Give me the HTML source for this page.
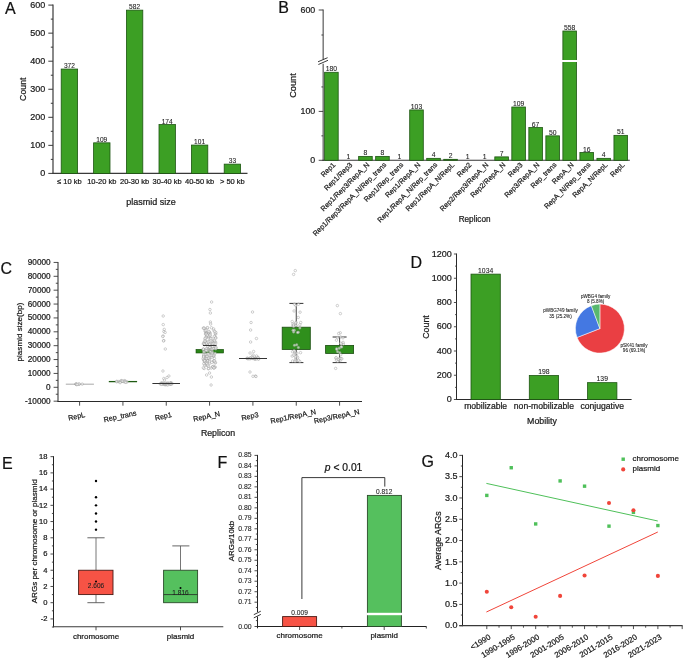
<!DOCTYPE html>
<html><head><meta charset="utf-8"><style>
html,body{margin:0;padding:0;background:#fff;}
body{width:685px;height:659px;overflow:hidden;}
svg{display:block;font-family:"Liberation Sans", sans-serif;will-change:transform;}
text{stroke:#1a1a1a;stroke-width:0.22px;}

</style></head><body>
<svg width="685" height="659" viewBox="0 0 685 659">
<rect x="0" y="0" width="685" height="659" fill="#fff"/>
<text x="5" y="13.8" font-size="16" text-anchor="start" fill="#111" >A</text>
<line x1="53" y1="4.6" x2="53" y2="173.9" stroke="#3a3a3a" stroke-width="1.2" />
<line x1="48.3" y1="173.4" x2="53" y2="173.4" stroke="#3a3a3a" stroke-width="1" />
<text x="45.3" y="176.1" font-size="9" text-anchor="end" fill="#1a1a1a" >0</text>
<line x1="48.3" y1="145.35" x2="53" y2="145.35" stroke="#3a3a3a" stroke-width="1" />
<text x="45.3" y="148.05" font-size="9" text-anchor="end" fill="#1a1a1a" >100</text>
<line x1="48.3" y1="117.3" x2="53" y2="117.3" stroke="#3a3a3a" stroke-width="1" />
<text x="45.3" y="120" font-size="9" text-anchor="end" fill="#1a1a1a" >200</text>
<line x1="48.3" y1="89.25" x2="53" y2="89.25" stroke="#3a3a3a" stroke-width="1" />
<text x="45.3" y="91.95" font-size="9" text-anchor="end" fill="#1a1a1a" >300</text>
<line x1="48.3" y1="61.2" x2="53" y2="61.2" stroke="#3a3a3a" stroke-width="1" />
<text x="45.3" y="63.9" font-size="9" text-anchor="end" fill="#1a1a1a" >400</text>
<line x1="48.3" y1="33.15" x2="53" y2="33.15" stroke="#3a3a3a" stroke-width="1" />
<text x="45.3" y="35.85" font-size="9" text-anchor="end" fill="#1a1a1a" >500</text>
<line x1="48.3" y1="5.1" x2="53" y2="5.1" stroke="#3a3a3a" stroke-width="1" />
<text x="45.3" y="7.8" font-size="9" text-anchor="end" fill="#1a1a1a" >600</text>
<line x1="50.8" y1="159.38" x2="53" y2="159.38" stroke="#3a3a3a" stroke-width="1" />
<line x1="50.8" y1="131.32" x2="53" y2="131.32" stroke="#3a3a3a" stroke-width="1" />
<line x1="50.8" y1="103.28" x2="53" y2="103.28" stroke="#3a3a3a" stroke-width="1" />
<line x1="50.8" y1="75.22" x2="53" y2="75.22" stroke="#3a3a3a" stroke-width="1" />
<line x1="50.8" y1="47.17" x2="53" y2="47.17" stroke="#3a3a3a" stroke-width="1" />
<line x1="50.8" y1="19.12" x2="53" y2="19.12" stroke="#3a3a3a" stroke-width="1" />
<line x1="52.4" y1="173.4" x2="247.5" y2="173.4" stroke="#3a3a3a" stroke-width="1.2" />
<rect x="61.2" y="69.05" width="16.4" height="104.35" fill="#3c9f24" stroke="#1d5512" stroke-width="0.8"/>
<text x="69.4" y="68.05" font-size="6.6" text-anchor="middle" fill="#222" style="stroke-width:0.08px">372</text>
<text x="69.4" y="183.7" font-size="7.5" text-anchor="middle" fill="#1a1a1a" >≤ 10 kb</text>
<rect x="93.6" y="142.83" width="16.4" height="30.57" fill="#3c9f24" stroke="#1d5512" stroke-width="0.8"/>
<text x="101.8" y="141.83" font-size="6.6" text-anchor="middle" fill="#222" style="stroke-width:0.08px">109</text>
<text x="101.8" y="183.7" font-size="7.5" text-anchor="middle" fill="#1a1a1a" >10-20 kb</text>
<rect x="126.4" y="10.15" width="16.4" height="163.25" fill="#3c9f24" stroke="#1d5512" stroke-width="0.8"/>
<text x="134.6" y="9.15" font-size="6.6" text-anchor="middle" fill="#222" style="stroke-width:0.08px">582</text>
<text x="134.6" y="183.7" font-size="7.5" text-anchor="middle" fill="#1a1a1a" >20-30 kb</text>
<rect x="159" y="124.59" width="16.4" height="48.81" fill="#3c9f24" stroke="#1d5512" stroke-width="0.8"/>
<text x="167.2" y="123.59" font-size="6.6" text-anchor="middle" fill="#222" style="stroke-width:0.08px">174</text>
<text x="167.2" y="183.7" font-size="7.5" text-anchor="middle" fill="#1a1a1a" >30-40 kb</text>
<rect x="191.4" y="145.07" width="16.4" height="28.33" fill="#3c9f24" stroke="#1d5512" stroke-width="0.8"/>
<text x="199.6" y="144.07" font-size="6.6" text-anchor="middle" fill="#222" style="stroke-width:0.08px">101</text>
<text x="199.6" y="183.7" font-size="7.5" text-anchor="middle" fill="#1a1a1a" >40-50 kb</text>
<rect x="224.2" y="164.14" width="16.4" height="9.26" fill="#3c9f24" stroke="#1d5512" stroke-width="0.8"/>
<text x="232.4" y="163.14" font-size="6.6" text-anchor="middle" fill="#222" style="stroke-width:0.08px">33</text>
<text x="232.4" y="183.7" font-size="7.5" text-anchor="middle" fill="#1a1a1a" >&gt; 50 kb</text>
<text x="150.9" y="205.2" font-size="9" text-anchor="middle" fill="#1a1a1a" >plasmid size</text>
<text x="26.2" y="89.2" font-size="8.8" text-anchor="middle" fill="#1a1a1a" transform="rotate(-90 26.2 89.2)" >Count</text>
<text x="278.2" y="13" font-size="16" text-anchor="start" fill="#111" >B</text>
<line x1="323.2" y1="9.5" x2="323.2" y2="59.4" stroke="#7a7a7a" stroke-width="1.5" />
<line x1="323.2" y1="63.8" x2="323.2" y2="160.9" stroke="#7a7a7a" stroke-width="1.5" />
<line x1="318" y1="61.8" x2="327.6" y2="57.7" stroke="#222" stroke-width="0.9" />
<line x1="318.4" y1="64.5" x2="328" y2="60.3" stroke="#222" stroke-width="0.9" />
<line x1="318.7" y1="10" x2="323.2" y2="10" stroke="#333" stroke-width="0.9" />
<text x="315.2" y="12.64" font-size="8.8" text-anchor="end" fill="#1a1a1a" >600</text>
<line x1="318.7" y1="111.4" x2="323.2" y2="111.4" stroke="#333" stroke-width="0.9" />
<text x="315.2" y="114.04" font-size="8.8" text-anchor="end" fill="#1a1a1a" >100</text>
<line x1="318.7" y1="160.3" x2="323.2" y2="160.3" stroke="#333" stroke-width="0.9" />
<text x="315.2" y="162.94" font-size="8.8" text-anchor="end" fill="#1a1a1a" >0</text>
<line x1="321.4" y1="35" x2="323.2" y2="35" stroke="#333" stroke-width="0.9" />
<line x1="321.4" y1="86.95" x2="323.2" y2="86.95" stroke="#333" stroke-width="0.9" />
<line x1="321.4" y1="135.85" x2="323.2" y2="135.85" stroke="#333" stroke-width="0.9" />
<line x1="322.5" y1="160.3" x2="629.8" y2="160.3" stroke="#333" stroke-width="1.1" />
<rect x="324.6" y="72.28" width="13.6" height="88.02" fill="#3c9f24" stroke="#1d5512" stroke-width="0.8"/>
<text x="331.4" y="71.38" font-size="6.8" text-anchor="middle" fill="#222" style="stroke-width:0.08px">180</text>
<text x="335.8" y="165.3" font-size="7.2" text-anchor="end" fill="#1a1a1a" transform="rotate(-45 335.8 165.3)" >Rep1</text>
<text x="348.42" y="158.91" font-size="6.8" text-anchor="middle" fill="#222" style="stroke-width:0.08px">1</text>
<text x="352.82" y="165.3" font-size="7.2" text-anchor="end" fill="#1a1a1a" transform="rotate(-45 352.82 165.3)" >Rep1/Rep3</text>
<rect x="358.64" y="156.39" width="13.6" height="3.91" fill="#3c9f24" stroke="#1d5512" stroke-width="0.8"/>
<text x="365.44" y="155.49" font-size="6.8" text-anchor="middle" fill="#222" style="stroke-width:0.08px">8</text>
<text x="369.84" y="165.3" font-size="7.2" text-anchor="end" fill="#1a1a1a" transform="rotate(-45 369.84 165.3)" >Rep1/Rep3/RepA_N</text>
<rect x="375.66" y="156.39" width="13.6" height="3.91" fill="#3c9f24" stroke="#1d5512" stroke-width="0.8"/>
<text x="382.46" y="155.49" font-size="6.8" text-anchor="middle" fill="#222" style="stroke-width:0.08px">8</text>
<text x="386.86" y="165.3" font-size="7.2" text-anchor="end" fill="#1a1a1a" transform="rotate(-45 386.86 165.3)" >Rep1/Rep3/RepA_N/Rep_trans</text>
<text x="399.48" y="158.91" font-size="6.8" text-anchor="middle" fill="#222" style="stroke-width:0.08px">1</text>
<text x="403.88" y="165.3" font-size="7.2" text-anchor="end" fill="#1a1a1a" transform="rotate(-45 403.88 165.3)" >Rep1/Rep_trans</text>
<rect x="409.7" y="109.93" width="13.6" height="50.37" fill="#3c9f24" stroke="#1d5512" stroke-width="0.8"/>
<text x="416.5" y="109.03" font-size="6.8" text-anchor="middle" fill="#222" style="stroke-width:0.08px">103</text>
<text x="420.9" y="165.3" font-size="7.2" text-anchor="end" fill="#1a1a1a" transform="rotate(-45 420.9 165.3)" >Rep1/RepA_N</text>
<rect x="426.72" y="158.34" width="13.6" height="1.96" fill="#3c9f24" stroke="#1d5512" stroke-width="0.8"/>
<text x="433.52" y="157.44" font-size="6.8" text-anchor="middle" fill="#222" style="stroke-width:0.08px">4</text>
<text x="437.92" y="165.3" font-size="7.2" text-anchor="end" fill="#1a1a1a" transform="rotate(-45 437.92 165.3)" >Rep1/RepA_N/Rep_trans</text>
<rect x="443.74" y="159.32" width="13.6" height="0.98" fill="#3c9f24" stroke="#1d5512" stroke-width="0.8"/>
<text x="450.54" y="158.42" font-size="6.8" text-anchor="middle" fill="#222" style="stroke-width:0.08px">2</text>
<text x="454.94" y="165.3" font-size="7.2" text-anchor="end" fill="#1a1a1a" transform="rotate(-45 454.94 165.3)" >Rep1/RepA_N/RepL</text>
<text x="467.56" y="158.91" font-size="6.8" text-anchor="middle" fill="#222" style="stroke-width:0.08px">1</text>
<text x="471.96" y="165.3" font-size="7.2" text-anchor="end" fill="#1a1a1a" transform="rotate(-45 471.96 165.3)" >Rep2</text>
<text x="484.58" y="158.91" font-size="6.8" text-anchor="middle" fill="#222" style="stroke-width:0.08px">1</text>
<text x="488.98" y="165.3" font-size="7.2" text-anchor="end" fill="#1a1a1a" transform="rotate(-45 488.98 165.3)" >Rep2/Rep3/RepA_N</text>
<rect x="494.8" y="156.88" width="13.6" height="3.42" fill="#3c9f24" stroke="#1d5512" stroke-width="0.8"/>
<text x="501.6" y="155.98" font-size="6.8" text-anchor="middle" fill="#222" style="stroke-width:0.08px">7</text>
<text x="506" y="165.3" font-size="7.2" text-anchor="end" fill="#1a1a1a" transform="rotate(-45 506 165.3)" >Rep2/RepA_N</text>
<rect x="511.82" y="107" width="13.6" height="53.3" fill="#3c9f24" stroke="#1d5512" stroke-width="0.8"/>
<text x="518.62" y="106.1" font-size="6.8" text-anchor="middle" fill="#222" style="stroke-width:0.08px">109</text>
<text x="523.02" y="165.3" font-size="7.2" text-anchor="end" fill="#1a1a1a" transform="rotate(-45 523.02 165.3)" >Rep3</text>
<rect x="528.84" y="127.54" width="13.6" height="32.76" fill="#3c9f24" stroke="#1d5512" stroke-width="0.8"/>
<text x="535.64" y="126.64" font-size="6.8" text-anchor="middle" fill="#222" style="stroke-width:0.08px">67</text>
<text x="540.04" y="165.3" font-size="7.2" text-anchor="end" fill="#1a1a1a" transform="rotate(-45 540.04 165.3)" >Rep3/RepA_N</text>
<rect x="545.86" y="135.85" width="13.6" height="24.45" fill="#3c9f24" stroke="#1d5512" stroke-width="0.8"/>
<text x="552.66" y="134.95" font-size="6.8" text-anchor="middle" fill="#222" style="stroke-width:0.08px">50</text>
<text x="557.06" y="165.3" font-size="7.2" text-anchor="end" fill="#1a1a1a" transform="rotate(-45 557.06 165.3)" >Rep_trans</text>
<rect x="562.88" y="31" width="13.6" height="129.3" fill="#3c9f24" stroke="#1d5512" stroke-width="0.8"/>
<rect x="561.88" y="60" width="15.6" height="2" fill="#fff" stroke="none" stroke-width="0.8"/>
<text x="569.68" y="30.1" font-size="6.8" text-anchor="middle" fill="#222" style="stroke-width:0.08px">558</text>
<text x="574.08" y="165.3" font-size="7.2" text-anchor="end" fill="#1a1a1a" transform="rotate(-45 574.08 165.3)" >RepA_N</text>
<rect x="579.9" y="152.48" width="13.6" height="7.82" fill="#3c9f24" stroke="#1d5512" stroke-width="0.8"/>
<text x="586.7" y="151.58" font-size="6.8" text-anchor="middle" fill="#222" style="stroke-width:0.08px">16</text>
<text x="591.1" y="165.3" font-size="7.2" text-anchor="end" fill="#1a1a1a" transform="rotate(-45 591.1 165.3)" >RepA_N/Rep_trans</text>
<rect x="596.92" y="158.34" width="13.6" height="1.96" fill="#3c9f24" stroke="#1d5512" stroke-width="0.8"/>
<text x="603.72" y="157.44" font-size="6.8" text-anchor="middle" fill="#222" style="stroke-width:0.08px">4</text>
<text x="608.12" y="165.3" font-size="7.2" text-anchor="end" fill="#1a1a1a" transform="rotate(-45 608.12 165.3)" >RepA_N/RepL</text>
<rect x="613.94" y="135.36" width="13.6" height="24.94" fill="#3c9f24" stroke="#1d5512" stroke-width="0.8"/>
<text x="620.74" y="134.46" font-size="6.8" text-anchor="middle" fill="#222" style="stroke-width:0.08px">51</text>
<text x="625.14" y="165.3" font-size="7.2" text-anchor="end" fill="#1a1a1a" transform="rotate(-45 625.14 165.3)" >RepL</text>
<text x="474.6" y="222" font-size="8.2" text-anchor="middle" fill="#1a1a1a" >Replicon</text>
<text x="295.8" y="85.5" font-size="9.2" text-anchor="middle" fill="#1a1a1a" transform="rotate(-90 295.8 85.5)" >Count</text>
<text x="0.6" y="273.6" font-size="16" text-anchor="start" fill="#111" >C</text>
<line x1="58" y1="261.93" x2="58" y2="401.68" stroke="#3a3a3a" stroke-width="1.1" />
<line x1="53.6" y1="401.18" x2="58" y2="401.18" stroke="#3a3a3a" stroke-width="0.9" />
<text x="50.6" y="403.63" font-size="8.2" text-anchor="end" fill="#1a1a1a" >-10000</text>
<line x1="53.6" y1="387.3" x2="58" y2="387.3" stroke="#3a3a3a" stroke-width="0.9" />
<text x="50.6" y="389.76" font-size="8.2" text-anchor="end" fill="#1a1a1a" >0</text>
<line x1="53.6" y1="373.43" x2="58" y2="373.43" stroke="#3a3a3a" stroke-width="0.9" />
<text x="50.6" y="375.88" font-size="8.2" text-anchor="end" fill="#1a1a1a" >10000</text>
<line x1="53.6" y1="359.55" x2="58" y2="359.55" stroke="#3a3a3a" stroke-width="0.9" />
<text x="50.6" y="362.01" font-size="8.2" text-anchor="end" fill="#1a1a1a" >20000</text>
<line x1="53.6" y1="345.68" x2="58" y2="345.68" stroke="#3a3a3a" stroke-width="0.9" />
<text x="50.6" y="348.13" font-size="8.2" text-anchor="end" fill="#1a1a1a" >30000</text>
<line x1="53.6" y1="331.8" x2="58" y2="331.8" stroke="#3a3a3a" stroke-width="0.9" />
<text x="50.6" y="334.26" font-size="8.2" text-anchor="end" fill="#1a1a1a" >40000</text>
<line x1="53.6" y1="317.93" x2="58" y2="317.93" stroke="#3a3a3a" stroke-width="0.9" />
<text x="50.6" y="320.38" font-size="8.2" text-anchor="end" fill="#1a1a1a" >50000</text>
<line x1="53.6" y1="304.05" x2="58" y2="304.05" stroke="#3a3a3a" stroke-width="0.9" />
<text x="50.6" y="306.51" font-size="8.2" text-anchor="end" fill="#1a1a1a" >60000</text>
<line x1="53.6" y1="290.18" x2="58" y2="290.18" stroke="#3a3a3a" stroke-width="0.9" />
<text x="50.6" y="292.63" font-size="8.2" text-anchor="end" fill="#1a1a1a" >70000</text>
<line x1="53.6" y1="276.3" x2="58" y2="276.3" stroke="#3a3a3a" stroke-width="0.9" />
<text x="50.6" y="278.76" font-size="8.2" text-anchor="end" fill="#1a1a1a" >80000</text>
<line x1="53.6" y1="262.43" x2="58" y2="262.43" stroke="#3a3a3a" stroke-width="0.9" />
<text x="50.6" y="264.88" font-size="8.2" text-anchor="end" fill="#1a1a1a" >90000</text>
<line x1="55.8" y1="394.24" x2="58" y2="394.24" stroke="#3a3a3a" stroke-width="0.9" />
<line x1="55.8" y1="380.36" x2="58" y2="380.36" stroke="#3a3a3a" stroke-width="0.9" />
<line x1="55.8" y1="366.49" x2="58" y2="366.49" stroke="#3a3a3a" stroke-width="0.9" />
<line x1="55.8" y1="352.61" x2="58" y2="352.61" stroke="#3a3a3a" stroke-width="0.9" />
<line x1="55.8" y1="338.74" x2="58" y2="338.74" stroke="#3a3a3a" stroke-width="0.9" />
<line x1="55.8" y1="324.86" x2="58" y2="324.86" stroke="#3a3a3a" stroke-width="0.9" />
<line x1="55.8" y1="310.99" x2="58" y2="310.99" stroke="#3a3a3a" stroke-width="0.9" />
<line x1="55.8" y1="297.11" x2="58" y2="297.11" stroke="#3a3a3a" stroke-width="0.9" />
<line x1="55.8" y1="283.24" x2="58" y2="283.24" stroke="#3a3a3a" stroke-width="0.9" />
<line x1="55.8" y1="269.36" x2="58" y2="269.36" stroke="#3a3a3a" stroke-width="0.9" />
<line x1="57.5" y1="401.5" x2="362" y2="401.5" stroke="#2a2a2a" stroke-width="1" />
<line x1="79.6" y1="401.18" x2="79.6" y2="405.68" stroke="#3a3a3a" stroke-width="0.9" />
<text x="76.6" y="418.8" font-size="7.2" text-anchor="middle" fill="#1a1a1a" transform="rotate(-12 76.6 416.2)" >RepL</text>
<line x1="122.93" y1="401.18" x2="122.93" y2="405.68" stroke="#3a3a3a" stroke-width="0.9" />
<text x="119.93" y="418.8" font-size="7.2" text-anchor="middle" fill="#1a1a1a" transform="rotate(-12 119.93 416.2)" >Rep_trans</text>
<line x1="166.26" y1="401.18" x2="166.26" y2="405.68" stroke="#3a3a3a" stroke-width="0.9" />
<text x="163.26" y="418.8" font-size="7.2" text-anchor="middle" fill="#1a1a1a" transform="rotate(-12 163.26 416.2)" >Rep1</text>
<line x1="209.59" y1="401.18" x2="209.59" y2="405.68" stroke="#3a3a3a" stroke-width="0.9" />
<text x="206.59" y="418.8" font-size="7.2" text-anchor="middle" fill="#1a1a1a" transform="rotate(-12 206.59 416.2)" >RepA_N</text>
<line x1="252.92" y1="401.18" x2="252.92" y2="405.68" stroke="#3a3a3a" stroke-width="0.9" />
<text x="249.92" y="418.8" font-size="7.2" text-anchor="middle" fill="#1a1a1a" transform="rotate(-12 249.92 416.2)" >Rep3</text>
<line x1="296.25" y1="401.18" x2="296.25" y2="405.68" stroke="#3a3a3a" stroke-width="0.9" />
<text x="293.25" y="418.8" font-size="7.2" text-anchor="middle" fill="#1a1a1a" transform="rotate(-12 293.25 416.2)" >Rep1/RepA_N</text>
<line x1="339.58" y1="401.18" x2="339.58" y2="405.68" stroke="#3a3a3a" stroke-width="0.9" />
<text x="336.58" y="418.8" font-size="7.2" text-anchor="middle" fill="#1a1a1a" transform="rotate(-12 336.58 416.2)" >Rep3/RepA_N</text>
<text x="218" y="436" font-size="8.8" text-anchor="middle" fill="#1a1a1a" >Replicon</text>
<text x="21.6" y="332" font-size="8.1" text-anchor="middle" fill="#1a1a1a" transform="rotate(-90 21.6 332)" >plasmid size(bp)</text>
<line x1="65.8" y1="384.2" x2="93.9" y2="384.2" stroke="#b0b0b0" stroke-width="1.1" />
<line x1="108.8" y1="381.6" x2="137.1" y2="381.6" stroke="#1e5a12" stroke-width="1.3" />
<line x1="296.25" y1="303.4" x2="296.25" y2="327.2" stroke="#333" stroke-width="0.9" />
<line x1="296.25" y1="349.5" x2="296.25" y2="362.6" stroke="#333" stroke-width="0.9" />
<line x1="289.4" y1="303.4" x2="303.4" y2="303.4" stroke="#333" stroke-width="1" />
<line x1="289.4" y1="362.6" x2="303.4" y2="362.6" stroke="#333" stroke-width="1" />
<rect x="282.2" y="327.2" width="28.1" height="22.3" fill="#2f8f1c" stroke="#1a4d10" stroke-width="0.8"/>
<line x1="339.58" y1="337" x2="339.58" y2="345.4" stroke="#333" stroke-width="0.9" />
<line x1="339.58" y1="353.4" x2="339.58" y2="362.6" stroke="#333" stroke-width="0.9" />
<line x1="332.6" y1="337" x2="346.6" y2="337" stroke="#333" stroke-width="1" />
<line x1="332.6" y1="362.6" x2="346.6" y2="362.6" stroke="#333" stroke-width="1" />
<rect x="325.6" y="345.4" width="28" height="8" fill="#2f8f1c" stroke="#1a4d10" stroke-width="0.8"/>
<rect x="196" y="349.3" width="27.6" height="3.7" fill="#2a8518" stroke="#1a4d10" stroke-width="0.6"/>
<circle cx="75.9" cy="384.1" r="1.25" fill="rgba(255,255,255,0.6)" stroke="#8a8a8a" stroke-width="0.4"/>
<circle cx="79.07" cy="384.4" r="1.25" fill="rgba(255,255,255,0.6)" stroke="#8a8a8a" stroke-width="0.4"/>
<circle cx="76.16" cy="384.11" r="1.25" fill="rgba(255,255,255,0.6)" stroke="#8a8a8a" stroke-width="0.4"/>
<circle cx="76.33" cy="384.07" r="1.25" fill="rgba(255,255,255,0.6)" stroke="#8a8a8a" stroke-width="0.4"/>
<circle cx="79" cy="383.83" r="1.25" fill="rgba(255,255,255,0.6)" stroke="#8a8a8a" stroke-width="0.4"/>
<circle cx="82.21" cy="384.11" r="1.25" fill="rgba(255,255,255,0.6)" stroke="#8a8a8a" stroke-width="0.4"/>
<circle cx="76.59" cy="384.64" r="1.25" fill="rgba(255,255,255,0.6)" stroke="#8a8a8a" stroke-width="0.4"/>
<circle cx="77.39" cy="384.37" r="1.25" fill="rgba(255,255,255,0.6)" stroke="#8a8a8a" stroke-width="0.4"/>
<circle cx="124.87" cy="380.59" r="1.25" fill="rgba(255,255,255,0.6)" stroke="#8a8a8a" stroke-width="0.4"/>
<circle cx="121.14" cy="380.55" r="1.25" fill="rgba(255,255,255,0.6)" stroke="#8a8a8a" stroke-width="0.4"/>
<circle cx="123.6" cy="381.07" r="1.25" fill="rgba(255,255,255,0.6)" stroke="#8a8a8a" stroke-width="0.4"/>
<circle cx="116.81" cy="381.32" r="1.25" fill="rgba(255,255,255,0.6)" stroke="#8a8a8a" stroke-width="0.4"/>
<circle cx="116.76" cy="381.78" r="1.25" fill="rgba(255,255,255,0.6)" stroke="#8a8a8a" stroke-width="0.4"/>
<circle cx="118.81" cy="381.57" r="1.25" fill="rgba(255,255,255,0.6)" stroke="#8a8a8a" stroke-width="0.4"/>
<circle cx="125.46" cy="381.91" r="1.25" fill="rgba(255,255,255,0.6)" stroke="#8a8a8a" stroke-width="0.4"/>
<circle cx="121.92" cy="381.21" r="1.25" fill="rgba(255,255,255,0.6)" stroke="#8a8a8a" stroke-width="0.4"/>
<circle cx="120.33" cy="381.79" r="1.25" fill="rgba(255,255,255,0.6)" stroke="#8a8a8a" stroke-width="0.4"/>
<circle cx="124.13" cy="381.84" r="1.25" fill="rgba(255,255,255,0.6)" stroke="#8a8a8a" stroke-width="0.4"/>
<circle cx="122.27" cy="381.2" r="1.25" fill="rgba(255,255,255,0.6)" stroke="#8a8a8a" stroke-width="0.4"/>
<circle cx="120.13" cy="382.63" r="1.25" fill="rgba(255,255,255,0.6)" stroke="#8a8a8a" stroke-width="0.4"/>
<circle cx="127.05" cy="381.93" r="1.25" fill="rgba(255,255,255,0.6)" stroke="#8a8a8a" stroke-width="0.4"/>
<circle cx="125.72" cy="382.32" r="1.25" fill="rgba(255,255,255,0.6)" stroke="#8a8a8a" stroke-width="0.4"/>
<circle cx="161.81" cy="383.04" r="1.25" fill="rgba(255,255,255,0.6)" stroke="#8a8a8a" stroke-width="0.4"/>
<circle cx="163.23" cy="384.04" r="1.25" fill="rgba(255,255,255,0.6)" stroke="#8a8a8a" stroke-width="0.4"/>
<circle cx="164.95" cy="384.61" r="1.25" fill="rgba(255,255,255,0.6)" stroke="#8a8a8a" stroke-width="0.4"/>
<circle cx="170.72" cy="383.26" r="1.25" fill="rgba(255,255,255,0.6)" stroke="#8a8a8a" stroke-width="0.4"/>
<circle cx="161.23" cy="383.08" r="1.25" fill="rgba(255,255,255,0.6)" stroke="#8a8a8a" stroke-width="0.4"/>
<circle cx="165.65" cy="383.65" r="1.25" fill="rgba(255,255,255,0.6)" stroke="#8a8a8a" stroke-width="0.4"/>
<circle cx="166.85" cy="383.4" r="1.25" fill="rgba(255,255,255,0.6)" stroke="#8a8a8a" stroke-width="0.4"/>
<circle cx="170.86" cy="383.05" r="1.25" fill="rgba(255,255,255,0.6)" stroke="#8a8a8a" stroke-width="0.4"/>
<circle cx="170.09" cy="384.17" r="1.25" fill="rgba(255,255,255,0.6)" stroke="#8a8a8a" stroke-width="0.4"/>
<circle cx="170.63" cy="383.66" r="1.25" fill="rgba(255,255,255,0.6)" stroke="#8a8a8a" stroke-width="0.4"/>
<circle cx="163.6" cy="383.54" r="1.25" fill="rgba(255,255,255,0.6)" stroke="#8a8a8a" stroke-width="0.4"/>
<circle cx="165.24" cy="383.76" r="1.25" fill="rgba(255,255,255,0.6)" stroke="#8a8a8a" stroke-width="0.4"/>
<circle cx="164.57" cy="384.15" r="1.25" fill="rgba(255,255,255,0.6)" stroke="#8a8a8a" stroke-width="0.4"/>
<circle cx="170.87" cy="383.29" r="1.25" fill="rgba(255,255,255,0.6)" stroke="#8a8a8a" stroke-width="0.4"/>
<circle cx="171.75" cy="383.1" r="1.25" fill="rgba(255,255,255,0.6)" stroke="#8a8a8a" stroke-width="0.4"/>
<circle cx="162.07" cy="384.04" r="1.25" fill="rgba(255,255,255,0.6)" stroke="#8a8a8a" stroke-width="0.4"/>
<circle cx="162.37" cy="383.49" r="1.25" fill="rgba(255,255,255,0.6)" stroke="#8a8a8a" stroke-width="0.4"/>
<circle cx="163.04" cy="383.49" r="1.25" fill="rgba(255,255,255,0.6)" stroke="#8a8a8a" stroke-width="0.4"/>
<circle cx="163.06" cy="383.36" r="1.25" fill="rgba(255,255,255,0.6)" stroke="#8a8a8a" stroke-width="0.4"/>
<circle cx="166.08" cy="384.01" r="1.25" fill="rgba(255,255,255,0.6)" stroke="#8a8a8a" stroke-width="0.4"/>
<circle cx="167.33" cy="383.77" r="1.25" fill="rgba(255,255,255,0.6)" stroke="#8a8a8a" stroke-width="0.4"/>
<circle cx="163.41" cy="383.42" r="1.25" fill="rgba(255,255,255,0.6)" stroke="#8a8a8a" stroke-width="0.4"/>
<circle cx="160.31" cy="384.03" r="1.25" fill="rgba(255,255,255,0.6)" stroke="#8a8a8a" stroke-width="0.4"/>
<circle cx="165.29" cy="384.63" r="1.25" fill="rgba(255,255,255,0.6)" stroke="#8a8a8a" stroke-width="0.4"/>
<circle cx="164.69" cy="384.17" r="1.25" fill="rgba(255,255,255,0.6)" stroke="#8a8a8a" stroke-width="0.4"/>
<circle cx="167.06" cy="383.19" r="1.25" fill="rgba(255,255,255,0.6)" stroke="#8a8a8a" stroke-width="0.4"/>
<circle cx="171.7" cy="384.15" r="1.25" fill="rgba(255,255,255,0.6)" stroke="#8a8a8a" stroke-width="0.4"/>
<circle cx="168.55" cy="383.46" r="1.25" fill="rgba(255,255,255,0.6)" stroke="#8a8a8a" stroke-width="0.4"/>
<circle cx="166.45" cy="384.52" r="1.25" fill="rgba(255,255,255,0.6)" stroke="#8a8a8a" stroke-width="0.4"/>
<circle cx="167.67" cy="385.01" r="1.25" fill="rgba(255,255,255,0.6)" stroke="#8a8a8a" stroke-width="0.4"/>
<circle cx="168.37" cy="383.29" r="1.25" fill="rgba(255,255,255,0.6)" stroke="#8a8a8a" stroke-width="0.4"/>
<circle cx="160.91" cy="383.59" r="1.25" fill="rgba(255,255,255,0.6)" stroke="#8a8a8a" stroke-width="0.4"/>
<circle cx="171.05" cy="383.9" r="1.25" fill="rgba(255,255,255,0.6)" stroke="#8a8a8a" stroke-width="0.4"/>
<circle cx="169.62" cy="383.78" r="1.25" fill="rgba(255,255,255,0.6)" stroke="#8a8a8a" stroke-width="0.4"/>
<circle cx="170.75" cy="383.88" r="1.25" fill="rgba(255,255,255,0.6)" stroke="#8a8a8a" stroke-width="0.4"/>
<circle cx="169.83" cy="383.13" r="1.25" fill="rgba(255,255,255,0.6)" stroke="#8a8a8a" stroke-width="0.4"/>
<circle cx="164.97" cy="383.2" r="1.25" fill="rgba(255,255,255,0.6)" stroke="#8a8a8a" stroke-width="0.4"/>
<circle cx="165.05" cy="383.35" r="1.25" fill="rgba(255,255,255,0.6)" stroke="#8a8a8a" stroke-width="0.4"/>
<circle cx="161.5" cy="384.28" r="1.25" fill="rgba(255,255,255,0.6)" stroke="#8a8a8a" stroke-width="0.4"/>
<circle cx="167.87" cy="383.5" r="1.25" fill="rgba(255,255,255,0.6)" stroke="#8a8a8a" stroke-width="0.4"/>
<circle cx="163.2" cy="316" r="1.25" fill="rgba(255,255,255,0.6)" stroke="#8a8a8a" stroke-width="0.4"/>
<circle cx="163.23" cy="324.6" r="1.25" fill="rgba(255,255,255,0.6)" stroke="#8a8a8a" stroke-width="0.4"/>
<circle cx="164.22" cy="329.4" r="1.25" fill="rgba(255,255,255,0.6)" stroke="#8a8a8a" stroke-width="0.4"/>
<circle cx="163.9" cy="331.5" r="1.25" fill="rgba(255,255,255,0.6)" stroke="#8a8a8a" stroke-width="0.4"/>
<circle cx="165.14" cy="332.4" r="1.25" fill="rgba(255,255,255,0.6)" stroke="#8a8a8a" stroke-width="0.4"/>
<circle cx="163.13" cy="336" r="1.25" fill="rgba(255,255,255,0.6)" stroke="#8a8a8a" stroke-width="0.4"/>
<circle cx="162.76" cy="336.5" r="1.25" fill="rgba(255,255,255,0.6)" stroke="#8a8a8a" stroke-width="0.4"/>
<circle cx="163.82" cy="340.6" r="1.25" fill="rgba(255,255,255,0.6)" stroke="#8a8a8a" stroke-width="0.4"/>
<circle cx="163.47" cy="340.9" r="1.25" fill="rgba(255,255,255,0.6)" stroke="#8a8a8a" stroke-width="0.4"/>
<circle cx="165.31" cy="349" r="1.25" fill="rgba(255,255,255,0.6)" stroke="#8a8a8a" stroke-width="0.4"/>
<circle cx="162.94" cy="371" r="1.25" fill="rgba(255,255,255,0.6)" stroke="#8a8a8a" stroke-width="0.4"/>
<circle cx="168.88" cy="376" r="1.25" fill="rgba(255,255,255,0.6)" stroke="#8a8a8a" stroke-width="0.4"/>
<circle cx="167.06" cy="377.5" r="1.25" fill="rgba(255,255,255,0.6)" stroke="#8a8a8a" stroke-width="0.4"/>
<circle cx="163.8" cy="378.5" r="1.25" fill="rgba(255,255,255,0.6)" stroke="#8a8a8a" stroke-width="0.4"/>
<circle cx="164.53" cy="380" r="1.25" fill="rgba(255,255,255,0.6)" stroke="#8a8a8a" stroke-width="0.4"/>
<circle cx="214.57" cy="341.59" r="1.25" fill="rgba(255,255,255,0.6)" stroke="#8a8a8a" stroke-width="0.4"/>
<circle cx="215.67" cy="342.29" r="1.25" fill="rgba(255,255,255,0.6)" stroke="#8a8a8a" stroke-width="0.4"/>
<circle cx="205.94" cy="332.16" r="1.25" fill="rgba(255,255,255,0.6)" stroke="#8a8a8a" stroke-width="0.4"/>
<circle cx="215.47" cy="362.66" r="1.25" fill="rgba(255,255,255,0.6)" stroke="#8a8a8a" stroke-width="0.4"/>
<circle cx="208.27" cy="368.71" r="1.25" fill="rgba(255,255,255,0.6)" stroke="#8a8a8a" stroke-width="0.4"/>
<circle cx="209.42" cy="346.57" r="1.25" fill="rgba(255,255,255,0.6)" stroke="#8a8a8a" stroke-width="0.4"/>
<circle cx="215.96" cy="347.32" r="1.25" fill="rgba(255,255,255,0.6)" stroke="#8a8a8a" stroke-width="0.4"/>
<circle cx="213.91" cy="330.61" r="1.25" fill="rgba(255,255,255,0.6)" stroke="#8a8a8a" stroke-width="0.4"/>
<circle cx="205.19" cy="331.29" r="1.25" fill="rgba(255,255,255,0.6)" stroke="#8a8a8a" stroke-width="0.4"/>
<circle cx="208.7" cy="341.39" r="1.25" fill="rgba(255,255,255,0.6)" stroke="#8a8a8a" stroke-width="0.4"/>
<circle cx="209.79" cy="338.12" r="1.25" fill="rgba(255,255,255,0.6)" stroke="#8a8a8a" stroke-width="0.4"/>
<circle cx="207.5" cy="361.81" r="1.25" fill="rgba(255,255,255,0.6)" stroke="#8a8a8a" stroke-width="0.4"/>
<circle cx="205.63" cy="333.78" r="1.25" fill="rgba(255,255,255,0.6)" stroke="#8a8a8a" stroke-width="0.4"/>
<circle cx="207.23" cy="327.97" r="1.25" fill="rgba(255,255,255,0.6)" stroke="#8a8a8a" stroke-width="0.4"/>
<circle cx="212.48" cy="366.94" r="1.25" fill="rgba(255,255,255,0.6)" stroke="#8a8a8a" stroke-width="0.4"/>
<circle cx="203.34" cy="349.19" r="1.25" fill="rgba(255,255,255,0.6)" stroke="#8a8a8a" stroke-width="0.4"/>
<circle cx="210.29" cy="333.16" r="1.25" fill="rgba(255,255,255,0.6)" stroke="#8a8a8a" stroke-width="0.4"/>
<circle cx="208.82" cy="349.81" r="1.25" fill="rgba(255,255,255,0.6)" stroke="#8a8a8a" stroke-width="0.4"/>
<circle cx="203.33" cy="328.14" r="1.25" fill="rgba(255,255,255,0.6)" stroke="#8a8a8a" stroke-width="0.4"/>
<circle cx="207.4" cy="349.18" r="1.25" fill="rgba(255,255,255,0.6)" stroke="#8a8a8a" stroke-width="0.4"/>
<circle cx="211.2" cy="368.1" r="1.25" fill="rgba(255,255,255,0.6)" stroke="#8a8a8a" stroke-width="0.4"/>
<circle cx="209.75" cy="363.26" r="1.25" fill="rgba(255,255,255,0.6)" stroke="#8a8a8a" stroke-width="0.4"/>
<circle cx="203.93" cy="356.24" r="1.25" fill="rgba(255,255,255,0.6)" stroke="#8a8a8a" stroke-width="0.4"/>
<circle cx="215.9" cy="337.97" r="1.25" fill="rgba(255,255,255,0.6)" stroke="#8a8a8a" stroke-width="0.4"/>
<circle cx="213.34" cy="342.4" r="1.25" fill="rgba(255,255,255,0.6)" stroke="#8a8a8a" stroke-width="0.4"/>
<circle cx="215.72" cy="334.02" r="1.25" fill="rgba(255,255,255,0.6)" stroke="#8a8a8a" stroke-width="0.4"/>
<circle cx="204.45" cy="359.42" r="1.25" fill="rgba(255,255,255,0.6)" stroke="#8a8a8a" stroke-width="0.4"/>
<circle cx="206.54" cy="349.37" r="1.25" fill="rgba(255,255,255,0.6)" stroke="#8a8a8a" stroke-width="0.4"/>
<circle cx="203.6" cy="359.72" r="1.25" fill="rgba(255,255,255,0.6)" stroke="#8a8a8a" stroke-width="0.4"/>
<circle cx="213.22" cy="340.85" r="1.25" fill="rgba(255,255,255,0.6)" stroke="#8a8a8a" stroke-width="0.4"/>
<circle cx="206.61" cy="336.37" r="1.25" fill="rgba(255,255,255,0.6)" stroke="#8a8a8a" stroke-width="0.4"/>
<circle cx="204.77" cy="361.08" r="1.25" fill="rgba(255,255,255,0.6)" stroke="#8a8a8a" stroke-width="0.4"/>
<circle cx="208.58" cy="368.37" r="1.25" fill="rgba(255,255,255,0.6)" stroke="#8a8a8a" stroke-width="0.4"/>
<circle cx="214.94" cy="362.81" r="1.25" fill="rgba(255,255,255,0.6)" stroke="#8a8a8a" stroke-width="0.4"/>
<circle cx="213.74" cy="360.86" r="1.25" fill="rgba(255,255,255,0.6)" stroke="#8a8a8a" stroke-width="0.4"/>
<circle cx="206.45" cy="361.37" r="1.25" fill="rgba(255,255,255,0.6)" stroke="#8a8a8a" stroke-width="0.4"/>
<circle cx="205.03" cy="358.07" r="1.25" fill="rgba(255,255,255,0.6)" stroke="#8a8a8a" stroke-width="0.4"/>
<circle cx="215.04" cy="336.52" r="1.25" fill="rgba(255,255,255,0.6)" stroke="#8a8a8a" stroke-width="0.4"/>
<circle cx="210.51" cy="348.74" r="1.25" fill="rgba(255,255,255,0.6)" stroke="#8a8a8a" stroke-width="0.4"/>
<circle cx="212.2" cy="341.93" r="1.25" fill="rgba(255,255,255,0.6)" stroke="#8a8a8a" stroke-width="0.4"/>
<circle cx="204.25" cy="328.22" r="1.25" fill="rgba(255,255,255,0.6)" stroke="#8a8a8a" stroke-width="0.4"/>
<circle cx="203.84" cy="328.17" r="1.25" fill="rgba(255,255,255,0.6)" stroke="#8a8a8a" stroke-width="0.4"/>
<circle cx="212.04" cy="338.74" r="1.25" fill="rgba(255,255,255,0.6)" stroke="#8a8a8a" stroke-width="0.4"/>
<circle cx="208.62" cy="337.89" r="1.25" fill="rgba(255,255,255,0.6)" stroke="#8a8a8a" stroke-width="0.4"/>
<circle cx="204.03" cy="356.09" r="1.25" fill="rgba(255,255,255,0.6)" stroke="#8a8a8a" stroke-width="0.4"/>
<circle cx="215.29" cy="367.17" r="1.25" fill="rgba(255,255,255,0.6)" stroke="#8a8a8a" stroke-width="0.4"/>
<circle cx="211.34" cy="345.78" r="1.25" fill="rgba(255,255,255,0.6)" stroke="#8a8a8a" stroke-width="0.4"/>
<circle cx="213.51" cy="366.35" r="1.25" fill="rgba(255,255,255,0.6)" stroke="#8a8a8a" stroke-width="0.4"/>
<circle cx="204.18" cy="368.5" r="1.25" fill="rgba(255,255,255,0.6)" stroke="#8a8a8a" stroke-width="0.4"/>
<circle cx="214.22" cy="367.11" r="1.25" fill="rgba(255,255,255,0.6)" stroke="#8a8a8a" stroke-width="0.4"/>
<circle cx="203.96" cy="342.31" r="1.25" fill="rgba(255,255,255,0.6)" stroke="#8a8a8a" stroke-width="0.4"/>
<circle cx="214.31" cy="336.26" r="1.25" fill="rgba(255,255,255,0.6)" stroke="#8a8a8a" stroke-width="0.4"/>
<circle cx="208.99" cy="336.53" r="1.25" fill="rgba(255,255,255,0.6)" stroke="#8a8a8a" stroke-width="0.4"/>
<circle cx="207.5" cy="335.26" r="1.25" fill="rgba(255,255,255,0.6)" stroke="#8a8a8a" stroke-width="0.4"/>
<circle cx="210.28" cy="335.58" r="1.25" fill="rgba(255,255,255,0.6)" stroke="#8a8a8a" stroke-width="0.4"/>
<circle cx="215.14" cy="353.21" r="1.25" fill="rgba(255,255,255,0.6)" stroke="#8a8a8a" stroke-width="0.4"/>
<circle cx="206.57" cy="364.81" r="1.25" fill="rgba(255,255,255,0.6)" stroke="#8a8a8a" stroke-width="0.4"/>
<circle cx="204.77" cy="362.3" r="1.25" fill="rgba(255,255,255,0.6)" stroke="#8a8a8a" stroke-width="0.4"/>
<circle cx="209.94" cy="347.14" r="1.25" fill="rgba(255,255,255,0.6)" stroke="#8a8a8a" stroke-width="0.4"/>
<circle cx="206.19" cy="354.43" r="1.25" fill="rgba(255,255,255,0.6)" stroke="#8a8a8a" stroke-width="0.4"/>
<circle cx="204.51" cy="360.59" r="1.25" fill="rgba(255,255,255,0.6)" stroke="#8a8a8a" stroke-width="0.4"/>
<circle cx="205.19" cy="330.56" r="1.25" fill="rgba(255,255,255,0.6)" stroke="#8a8a8a" stroke-width="0.4"/>
<circle cx="203.74" cy="354.74" r="1.25" fill="rgba(255,255,255,0.6)" stroke="#8a8a8a" stroke-width="0.4"/>
<circle cx="205.71" cy="365.21" r="1.25" fill="rgba(255,255,255,0.6)" stroke="#8a8a8a" stroke-width="0.4"/>
<circle cx="207.15" cy="359.86" r="1.25" fill="rgba(255,255,255,0.6)" stroke="#8a8a8a" stroke-width="0.4"/>
<circle cx="207.06" cy="358.51" r="1.25" fill="rgba(255,255,255,0.6)" stroke="#8a8a8a" stroke-width="0.4"/>
<circle cx="212.96" cy="347.08" r="1.25" fill="rgba(255,255,255,0.6)" stroke="#8a8a8a" stroke-width="0.4"/>
<circle cx="206.86" cy="334.5" r="1.25" fill="rgba(255,255,255,0.6)" stroke="#8a8a8a" stroke-width="0.4"/>
<circle cx="209.59" cy="360.14" r="1.25" fill="rgba(255,255,255,0.6)" stroke="#8a8a8a" stroke-width="0.4"/>
<circle cx="205.4" cy="340.97" r="1.25" fill="rgba(255,255,255,0.6)" stroke="#8a8a8a" stroke-width="0.4"/>
<circle cx="207.6" cy="360.63" r="1.25" fill="rgba(255,255,255,0.6)" stroke="#8a8a8a" stroke-width="0.4"/>
<circle cx="203.33" cy="367.81" r="1.25" fill="rgba(255,255,255,0.6)" stroke="#8a8a8a" stroke-width="0.4"/>
<circle cx="206.35" cy="343.63" r="1.25" fill="rgba(255,255,255,0.6)" stroke="#8a8a8a" stroke-width="0.4"/>
<circle cx="203.29" cy="343.86" r="1.25" fill="rgba(255,255,255,0.6)" stroke="#8a8a8a" stroke-width="0.4"/>
<circle cx="212.62" cy="366.77" r="1.25" fill="rgba(255,255,255,0.6)" stroke="#8a8a8a" stroke-width="0.4"/>
<circle cx="210.25" cy="357.44" r="1.25" fill="rgba(255,255,255,0.6)" stroke="#8a8a8a" stroke-width="0.4"/>
<circle cx="205.55" cy="334.14" r="1.25" fill="rgba(255,255,255,0.6)" stroke="#8a8a8a" stroke-width="0.4"/>
<circle cx="209.26" cy="332.34" r="1.25" fill="rgba(255,255,255,0.6)" stroke="#8a8a8a" stroke-width="0.4"/>
<circle cx="215.24" cy="333.35" r="1.25" fill="rgba(255,255,255,0.6)" stroke="#8a8a8a" stroke-width="0.4"/>
<circle cx="204.47" cy="365" r="1.25" fill="rgba(255,255,255,0.6)" stroke="#8a8a8a" stroke-width="0.4"/>
<circle cx="213.74" cy="360.87" r="1.25" fill="rgba(255,255,255,0.6)" stroke="#8a8a8a" stroke-width="0.4"/>
<circle cx="208.71" cy="333.14" r="1.25" fill="rgba(255,255,255,0.6)" stroke="#8a8a8a" stroke-width="0.4"/>
<circle cx="209.53" cy="361.71" r="1.25" fill="rgba(255,255,255,0.6)" stroke="#8a8a8a" stroke-width="0.4"/>
<circle cx="213.94" cy="368.17" r="1.25" fill="rgba(255,255,255,0.6)" stroke="#8a8a8a" stroke-width="0.4"/>
<circle cx="208.2" cy="354.61" r="1.25" fill="rgba(255,255,255,0.6)" stroke="#8a8a8a" stroke-width="0.4"/>
<circle cx="209.68" cy="341.72" r="1.25" fill="rgba(255,255,255,0.6)" stroke="#8a8a8a" stroke-width="0.4"/>
<circle cx="212.03" cy="350.04" r="1.25" fill="rgba(255,255,255,0.6)" stroke="#8a8a8a" stroke-width="0.4"/>
<circle cx="215.86" cy="332.5" r="1.25" fill="rgba(255,255,255,0.6)" stroke="#8a8a8a" stroke-width="0.4"/>
<circle cx="207.55" cy="327.6" r="1.25" fill="rgba(255,255,255,0.6)" stroke="#8a8a8a" stroke-width="0.4"/>
<circle cx="213.91" cy="367.78" r="1.25" fill="rgba(255,255,255,0.6)" stroke="#8a8a8a" stroke-width="0.4"/>
<circle cx="212.28" cy="354.29" r="1.25" fill="rgba(255,255,255,0.6)" stroke="#8a8a8a" stroke-width="0.4"/>
<circle cx="211.36" cy="349.12" r="1.25" fill="rgba(255,255,255,0.6)" stroke="#8a8a8a" stroke-width="0.4"/>
<circle cx="208.35" cy="366.21" r="1.25" fill="rgba(255,255,255,0.6)" stroke="#8a8a8a" stroke-width="0.4"/>
<circle cx="207.61" cy="345.22" r="1.25" fill="rgba(255,255,255,0.6)" stroke="#8a8a8a" stroke-width="0.4"/>
<circle cx="203.8" cy="363.61" r="1.25" fill="rgba(255,255,255,0.6)" stroke="#8a8a8a" stroke-width="0.4"/>
<circle cx="204.78" cy="351.85" r="1.25" fill="rgba(255,255,255,0.6)" stroke="#8a8a8a" stroke-width="0.4"/>
<circle cx="204.01" cy="343.5" r="1.25" fill="rgba(255,255,255,0.6)" stroke="#8a8a8a" stroke-width="0.4"/>
<circle cx="212.72" cy="348.91" r="1.25" fill="rgba(255,255,255,0.6)" stroke="#8a8a8a" stroke-width="0.4"/>
<circle cx="206.41" cy="356.49" r="1.25" fill="rgba(255,255,255,0.6)" stroke="#8a8a8a" stroke-width="0.4"/>
<circle cx="205.21" cy="349.71" r="1.25" fill="rgba(255,255,255,0.6)" stroke="#8a8a8a" stroke-width="0.4"/>
<circle cx="204.19" cy="360.94" r="1.25" fill="rgba(255,255,255,0.6)" stroke="#8a8a8a" stroke-width="0.4"/>
<circle cx="214.03" cy="348.45" r="1.25" fill="rgba(255,255,255,0.6)" stroke="#8a8a8a" stroke-width="0.4"/>
<circle cx="214.41" cy="358.36" r="1.25" fill="rgba(255,255,255,0.6)" stroke="#8a8a8a" stroke-width="0.4"/>
<circle cx="211.81" cy="362.42" r="1.25" fill="rgba(255,255,255,0.6)" stroke="#8a8a8a" stroke-width="0.4"/>
<circle cx="206.76" cy="363.49" r="1.25" fill="rgba(255,255,255,0.6)" stroke="#8a8a8a" stroke-width="0.4"/>
<circle cx="206.24" cy="342.95" r="1.25" fill="rgba(255,255,255,0.6)" stroke="#8a8a8a" stroke-width="0.4"/>
<circle cx="206.9" cy="356.92" r="1.25" fill="rgba(255,255,255,0.6)" stroke="#8a8a8a" stroke-width="0.4"/>
<circle cx="209.06" cy="332.12" r="1.25" fill="rgba(255,255,255,0.6)" stroke="#8a8a8a" stroke-width="0.4"/>
<circle cx="205.14" cy="339.25" r="1.25" fill="rgba(255,255,255,0.6)" stroke="#8a8a8a" stroke-width="0.4"/>
<circle cx="208.89" cy="331.33" r="1.25" fill="rgba(255,255,255,0.6)" stroke="#8a8a8a" stroke-width="0.4"/>
<circle cx="206.51" cy="358.62" r="1.25" fill="rgba(255,255,255,0.6)" stroke="#8a8a8a" stroke-width="0.4"/>
<circle cx="215.59" cy="337.91" r="1.25" fill="rgba(255,255,255,0.6)" stroke="#8a8a8a" stroke-width="0.4"/>
<circle cx="215.73" cy="348.89" r="1.25" fill="rgba(255,255,255,0.6)" stroke="#8a8a8a" stroke-width="0.4"/>
<circle cx="210.2" cy="347.27" r="1.25" fill="rgba(255,255,255,0.6)" stroke="#8a8a8a" stroke-width="0.4"/>
<circle cx="206.27" cy="348.74" r="1.25" fill="rgba(255,255,255,0.6)" stroke="#8a8a8a" stroke-width="0.4"/>
<circle cx="215.64" cy="343.68" r="1.25" fill="rgba(255,255,255,0.6)" stroke="#8a8a8a" stroke-width="0.4"/>
<circle cx="207.11" cy="351.1" r="1.25" fill="rgba(255,255,255,0.6)" stroke="#8a8a8a" stroke-width="0.4"/>
<circle cx="207.73" cy="365.12" r="1.25" fill="rgba(255,255,255,0.6)" stroke="#8a8a8a" stroke-width="0.4"/>
<circle cx="203.1" cy="349.4" r="1.25" fill="rgba(255,255,255,0.6)" stroke="#8a8a8a" stroke-width="0.4"/>
<circle cx="208.05" cy="353.78" r="1.25" fill="rgba(255,255,255,0.6)" stroke="#8a8a8a" stroke-width="0.4"/>
<circle cx="209.26" cy="358" r="1.25" fill="rgba(255,255,255,0.6)" stroke="#8a8a8a" stroke-width="0.4"/>
<circle cx="209.63" cy="347.22" r="1.25" fill="rgba(255,255,255,0.6)" stroke="#8a8a8a" stroke-width="0.4"/>
<circle cx="205.7" cy="337.66" r="1.25" fill="rgba(255,255,255,0.6)" stroke="#8a8a8a" stroke-width="0.4"/>
<circle cx="209.65" cy="344" r="1.25" fill="rgba(255,255,255,0.6)" stroke="#8a8a8a" stroke-width="0.4"/>
<circle cx="203.15" cy="358.66" r="1.25" fill="rgba(255,255,255,0.6)" stroke="#8a8a8a" stroke-width="0.4"/>
<circle cx="206.52" cy="334.18" r="1.25" fill="rgba(255,255,255,0.6)" stroke="#8a8a8a" stroke-width="0.4"/>
<circle cx="204.26" cy="343.62" r="1.25" fill="rgba(255,255,255,0.6)" stroke="#8a8a8a" stroke-width="0.4"/>
<circle cx="208.28" cy="358.07" r="1.25" fill="rgba(255,255,255,0.6)" stroke="#8a8a8a" stroke-width="0.4"/>
<circle cx="203.63" cy="356.13" r="1.25" fill="rgba(255,255,255,0.6)" stroke="#8a8a8a" stroke-width="0.4"/>
<circle cx="203.38" cy="349.07" r="1.25" fill="rgba(255,255,255,0.6)" stroke="#8a8a8a" stroke-width="0.4"/>
<circle cx="207.05" cy="356.25" r="1.25" fill="rgba(255,255,255,0.6)" stroke="#8a8a8a" stroke-width="0.4"/>
<circle cx="206.12" cy="350.49" r="1.25" fill="rgba(255,255,255,0.6)" stroke="#8a8a8a" stroke-width="0.4"/>
<circle cx="210.7" cy="338.39" r="1.25" fill="rgba(255,255,255,0.6)" stroke="#8a8a8a" stroke-width="0.4"/>
<circle cx="209.97" cy="334.92" r="1.25" fill="rgba(255,255,255,0.6)" stroke="#8a8a8a" stroke-width="0.4"/>
<circle cx="212.85" cy="343.25" r="1.25" fill="rgba(255,255,255,0.6)" stroke="#8a8a8a" stroke-width="0.4"/>
<circle cx="211.64" cy="357.3" r="1.25" fill="rgba(255,255,255,0.6)" stroke="#8a8a8a" stroke-width="0.4"/>
<circle cx="212.4" cy="343.91" r="1.25" fill="rgba(255,255,255,0.6)" stroke="#8a8a8a" stroke-width="0.4"/>
<circle cx="214.52" cy="340.88" r="1.25" fill="rgba(255,255,255,0.6)" stroke="#8a8a8a" stroke-width="0.4"/>
<circle cx="208.15" cy="342.06" r="1.25" fill="rgba(255,255,255,0.6)" stroke="#8a8a8a" stroke-width="0.4"/>
<circle cx="207.33" cy="335.21" r="1.25" fill="rgba(255,255,255,0.6)" stroke="#8a8a8a" stroke-width="0.4"/>
<circle cx="215.89" cy="347.94" r="1.25" fill="rgba(255,255,255,0.6)" stroke="#8a8a8a" stroke-width="0.4"/>
<circle cx="205.03" cy="338.38" r="1.25" fill="rgba(255,255,255,0.6)" stroke="#8a8a8a" stroke-width="0.4"/>
<circle cx="212.5" cy="352.28" r="1.25" fill="rgba(255,255,255,0.6)" stroke="#8a8a8a" stroke-width="0.4"/>
<circle cx="211.45" cy="327.76" r="1.25" fill="rgba(255,255,255,0.6)" stroke="#8a8a8a" stroke-width="0.4"/>
<circle cx="203.66" cy="351.95" r="1.25" fill="rgba(255,255,255,0.6)" stroke="#8a8a8a" stroke-width="0.4"/>
<circle cx="213.95" cy="343.23" r="1.25" fill="rgba(255,255,255,0.6)" stroke="#8a8a8a" stroke-width="0.4"/>
<circle cx="214.69" cy="331.52" r="1.25" fill="rgba(255,255,255,0.6)" stroke="#8a8a8a" stroke-width="0.4"/>
<circle cx="211.25" cy="355.52" r="1.25" fill="rgba(255,255,255,0.6)" stroke="#8a8a8a" stroke-width="0.4"/>
<circle cx="212.63" cy="346.52" r="1.25" fill="rgba(255,255,255,0.6)" stroke="#8a8a8a" stroke-width="0.4"/>
<circle cx="213.65" cy="328.93" r="1.25" fill="rgba(255,255,255,0.6)" stroke="#8a8a8a" stroke-width="0.4"/>
<circle cx="204.9" cy="341.12" r="1.25" fill="rgba(255,255,255,0.6)" stroke="#8a8a8a" stroke-width="0.4"/>
<circle cx="209.9" cy="351.62" r="1.25" fill="rgba(255,255,255,0.6)" stroke="#8a8a8a" stroke-width="0.4"/>
<circle cx="209.65" cy="344.87" r="1.25" fill="rgba(255,255,255,0.6)" stroke="#8a8a8a" stroke-width="0.4"/>
<circle cx="213.94" cy="356.02" r="1.25" fill="rgba(255,255,255,0.6)" stroke="#8a8a8a" stroke-width="0.4"/>
<circle cx="213.55" cy="355.73" r="1.25" fill="rgba(255,255,255,0.6)" stroke="#8a8a8a" stroke-width="0.4"/>
<circle cx="213.83" cy="355" r="1.25" fill="rgba(255,255,255,0.6)" stroke="#8a8a8a" stroke-width="0.4"/>
<circle cx="210.68" cy="351.94" r="1.25" fill="rgba(255,255,255,0.6)" stroke="#8a8a8a" stroke-width="0.4"/>
<circle cx="214.7" cy="361" r="1.25" fill="rgba(255,255,255,0.6)" stroke="#8a8a8a" stroke-width="0.4"/>
<circle cx="211.97" cy="354.94" r="1.25" fill="rgba(255,255,255,0.6)" stroke="#8a8a8a" stroke-width="0.4"/>
<circle cx="212.1" cy="353.06" r="1.25" fill="rgba(255,255,255,0.6)" stroke="#8a8a8a" stroke-width="0.4"/>
<circle cx="206.08" cy="330.24" r="1.25" fill="rgba(255,255,255,0.6)" stroke="#8a8a8a" stroke-width="0.4"/>
<circle cx="203.5" cy="357.07" r="1.25" fill="rgba(255,255,255,0.6)" stroke="#8a8a8a" stroke-width="0.4"/>
<circle cx="204.82" cy="360.78" r="1.25" fill="rgba(255,255,255,0.6)" stroke="#8a8a8a" stroke-width="0.4"/>
<circle cx="207.78" cy="346.33" r="1.25" fill="rgba(255,255,255,0.6)" stroke="#8a8a8a" stroke-width="0.4"/>
<circle cx="204.45" cy="344.77" r="1.25" fill="rgba(255,255,255,0.6)" stroke="#8a8a8a" stroke-width="0.4"/>
<circle cx="211.6" cy="302" r="1.25" fill="rgba(255,255,255,0.6)" stroke="#8a8a8a" stroke-width="0.4"/>
<circle cx="209.94" cy="309.5" r="1.25" fill="rgba(255,255,255,0.6)" stroke="#8a8a8a" stroke-width="0.4"/>
<circle cx="210.36" cy="313" r="1.25" fill="rgba(255,255,255,0.6)" stroke="#8a8a8a" stroke-width="0.4"/>
<circle cx="210.35" cy="322" r="1.25" fill="rgba(255,255,255,0.6)" stroke="#8a8a8a" stroke-width="0.4"/>
<circle cx="210.67" cy="324" r="1.25" fill="rgba(255,255,255,0.6)" stroke="#8a8a8a" stroke-width="0.4"/>
<circle cx="209.53" cy="373" r="1.25" fill="rgba(255,255,255,0.6)" stroke="#8a8a8a" stroke-width="0.4"/>
<circle cx="206.61" cy="375" r="1.25" fill="rgba(255,255,255,0.6)" stroke="#8a8a8a" stroke-width="0.4"/>
<circle cx="211.38" cy="377" r="1.25" fill="rgba(255,255,255,0.6)" stroke="#8a8a8a" stroke-width="0.4"/>
<circle cx="211.08" cy="385" r="1.25" fill="rgba(255,255,255,0.6)" stroke="#8a8a8a" stroke-width="0.4"/>
<circle cx="255.84" cy="357.61" r="1.25" fill="rgba(255,255,255,0.6)" stroke="#8a8a8a" stroke-width="0.4"/>
<circle cx="250.57" cy="358.58" r="1.25" fill="rgba(255,255,255,0.6)" stroke="#8a8a8a" stroke-width="0.4"/>
<circle cx="253.73" cy="358.44" r="1.25" fill="rgba(255,255,255,0.6)" stroke="#8a8a8a" stroke-width="0.4"/>
<circle cx="247.07" cy="358.35" r="1.25" fill="rgba(255,255,255,0.6)" stroke="#8a8a8a" stroke-width="0.4"/>
<circle cx="247.65" cy="358.55" r="1.25" fill="rgba(255,255,255,0.6)" stroke="#8a8a8a" stroke-width="0.4"/>
<circle cx="250.15" cy="357.99" r="1.25" fill="rgba(255,255,255,0.6)" stroke="#8a8a8a" stroke-width="0.4"/>
<circle cx="254.98" cy="359.16" r="1.25" fill="rgba(255,255,255,0.6)" stroke="#8a8a8a" stroke-width="0.4"/>
<circle cx="255.23" cy="358.88" r="1.25" fill="rgba(255,255,255,0.6)" stroke="#8a8a8a" stroke-width="0.4"/>
<circle cx="255.03" cy="358.53" r="1.25" fill="rgba(255,255,255,0.6)" stroke="#8a8a8a" stroke-width="0.4"/>
<circle cx="250.41" cy="358.06" r="1.25" fill="rgba(255,255,255,0.6)" stroke="#8a8a8a" stroke-width="0.4"/>
<circle cx="253.12" cy="358.46" r="1.25" fill="rgba(255,255,255,0.6)" stroke="#8a8a8a" stroke-width="0.4"/>
<circle cx="252.5" cy="356.42" r="1.25" fill="rgba(255,255,255,0.6)" stroke="#8a8a8a" stroke-width="0.4"/>
<circle cx="252.52" cy="357.81" r="1.25" fill="rgba(255,255,255,0.6)" stroke="#8a8a8a" stroke-width="0.4"/>
<circle cx="248.34" cy="358.63" r="1.25" fill="rgba(255,255,255,0.6)" stroke="#8a8a8a" stroke-width="0.4"/>
<circle cx="257.64" cy="357.4" r="1.25" fill="rgba(255,255,255,0.6)" stroke="#8a8a8a" stroke-width="0.4"/>
<circle cx="249.31" cy="358.76" r="1.25" fill="rgba(255,255,255,0.6)" stroke="#8a8a8a" stroke-width="0.4"/>
<circle cx="258.66" cy="358.72" r="1.25" fill="rgba(255,255,255,0.6)" stroke="#8a8a8a" stroke-width="0.4"/>
<circle cx="258.16" cy="357.5" r="1.25" fill="rgba(255,255,255,0.6)" stroke="#8a8a8a" stroke-width="0.4"/>
<circle cx="247.13" cy="358.4" r="1.25" fill="rgba(255,255,255,0.6)" stroke="#8a8a8a" stroke-width="0.4"/>
<circle cx="252.43" cy="358.35" r="1.25" fill="rgba(255,255,255,0.6)" stroke="#8a8a8a" stroke-width="0.4"/>
<circle cx="256.76" cy="358.97" r="1.25" fill="rgba(255,255,255,0.6)" stroke="#8a8a8a" stroke-width="0.4"/>
<circle cx="258.54" cy="359.09" r="1.25" fill="rgba(255,255,255,0.6)" stroke="#8a8a8a" stroke-width="0.4"/>
<circle cx="252.52" cy="312" r="1.25" fill="rgba(255,255,255,0.6)" stroke="#8a8a8a" stroke-width="0.4"/>
<circle cx="251.07" cy="322.5" r="1.25" fill="rgba(255,255,255,0.6)" stroke="#8a8a8a" stroke-width="0.4"/>
<circle cx="250.6" cy="330" r="1.25" fill="rgba(255,255,255,0.6)" stroke="#8a8a8a" stroke-width="0.4"/>
<circle cx="256.48" cy="338.5" r="1.25" fill="rgba(255,255,255,0.6)" stroke="#8a8a8a" stroke-width="0.4"/>
<circle cx="250.61" cy="342" r="1.25" fill="rgba(255,255,255,0.6)" stroke="#8a8a8a" stroke-width="0.4"/>
<circle cx="253.57" cy="351.5" r="1.25" fill="rgba(255,255,255,0.6)" stroke="#8a8a8a" stroke-width="0.4"/>
<circle cx="250.05" cy="353" r="1.25" fill="rgba(255,255,255,0.6)" stroke="#8a8a8a" stroke-width="0.4"/>
<circle cx="253.11" cy="355" r="1.25" fill="rgba(255,255,255,0.6)" stroke="#8a8a8a" stroke-width="0.4"/>
<circle cx="256.54" cy="356" r="1.25" fill="rgba(255,255,255,0.6)" stroke="#8a8a8a" stroke-width="0.4"/>
<circle cx="249.98" cy="372" r="1.25" fill="rgba(255,255,255,0.6)" stroke="#8a8a8a" stroke-width="0.4"/>
<circle cx="255.48" cy="376" r="1.25" fill="rgba(255,255,255,0.6)" stroke="#8a8a8a" stroke-width="0.4"/>
<circle cx="252.99" cy="376.3" r="1.25" fill="rgba(255,255,255,0.6)" stroke="#8a8a8a" stroke-width="0.4"/>
<circle cx="256.01" cy="376.5" r="1.25" fill="rgba(255,255,255,0.6)" stroke="#8a8a8a" stroke-width="0.4"/>
<circle cx="296.69" cy="344.79" r="1.25" fill="rgba(255,255,255,0.6)" stroke="#8a8a8a" stroke-width="0.4"/>
<circle cx="298.23" cy="317.42" r="1.25" fill="rgba(255,255,255,0.6)" stroke="#8a8a8a" stroke-width="0.4"/>
<circle cx="292.2" cy="356.07" r="1.25" fill="rgba(255,255,255,0.6)" stroke="#8a8a8a" stroke-width="0.4"/>
<circle cx="298.34" cy="332.2" r="1.25" fill="rgba(255,255,255,0.6)" stroke="#8a8a8a" stroke-width="0.4"/>
<circle cx="295.81" cy="305.44" r="1.25" fill="rgba(255,255,255,0.6)" stroke="#8a8a8a" stroke-width="0.4"/>
<circle cx="298.52" cy="304.21" r="1.25" fill="rgba(255,255,255,0.6)" stroke="#8a8a8a" stroke-width="0.4"/>
<circle cx="297.55" cy="332.52" r="1.25" fill="rgba(255,255,255,0.6)" stroke="#8a8a8a" stroke-width="0.4"/>
<circle cx="294.33" cy="330.14" r="1.25" fill="rgba(255,255,255,0.6)" stroke="#8a8a8a" stroke-width="0.4"/>
<circle cx="292.19" cy="321.51" r="1.25" fill="rgba(255,255,255,0.6)" stroke="#8a8a8a" stroke-width="0.4"/>
<circle cx="300.09" cy="312.16" r="1.25" fill="rgba(255,255,255,0.6)" stroke="#8a8a8a" stroke-width="0.4"/>
<circle cx="292.9" cy="323.95" r="1.25" fill="rgba(255,255,255,0.6)" stroke="#8a8a8a" stroke-width="0.4"/>
<circle cx="296" cy="322.33" r="1.25" fill="rgba(255,255,255,0.6)" stroke="#8a8a8a" stroke-width="0.4"/>
<circle cx="294.84" cy="352.73" r="1.25" fill="rgba(255,255,255,0.6)" stroke="#8a8a8a" stroke-width="0.4"/>
<circle cx="294.43" cy="304.1" r="1.25" fill="rgba(255,255,255,0.6)" stroke="#8a8a8a" stroke-width="0.4"/>
<circle cx="298.4" cy="347.54" r="1.25" fill="rgba(255,255,255,0.6)" stroke="#8a8a8a" stroke-width="0.4"/>
<circle cx="300.54" cy="352.67" r="1.25" fill="rgba(255,255,255,0.6)" stroke="#8a8a8a" stroke-width="0.4"/>
<circle cx="294.09" cy="310.96" r="1.25" fill="rgba(255,255,255,0.6)" stroke="#8a8a8a" stroke-width="0.4"/>
<circle cx="297.65" cy="357.73" r="1.25" fill="rgba(255,255,255,0.6)" stroke="#8a8a8a" stroke-width="0.4"/>
<circle cx="294.46" cy="345.36" r="1.25" fill="rgba(255,255,255,0.6)" stroke="#8a8a8a" stroke-width="0.4"/>
<circle cx="296.77" cy="356.29" r="1.25" fill="rgba(255,255,255,0.6)" stroke="#8a8a8a" stroke-width="0.4"/>
<circle cx="295.3" cy="324.9" r="1.25" fill="rgba(255,255,255,0.6)" stroke="#8a8a8a" stroke-width="0.4"/>
<circle cx="293.26" cy="325.72" r="1.25" fill="rgba(255,255,255,0.6)" stroke="#8a8a8a" stroke-width="0.4"/>
<circle cx="293.2" cy="325.93" r="1.25" fill="rgba(255,255,255,0.6)" stroke="#8a8a8a" stroke-width="0.4"/>
<circle cx="293.62" cy="331.99" r="1.25" fill="rgba(255,255,255,0.6)" stroke="#8a8a8a" stroke-width="0.4"/>
<circle cx="299.9" cy="327.89" r="1.25" fill="rgba(255,255,255,0.6)" stroke="#8a8a8a" stroke-width="0.4"/>
<circle cx="296.22" cy="325.61" r="1.25" fill="rgba(255,255,255,0.6)" stroke="#8a8a8a" stroke-width="0.4"/>
<circle cx="293.73" cy="326.28" r="1.25" fill="rgba(255,255,255,0.6)" stroke="#8a8a8a" stroke-width="0.4"/>
<circle cx="299.91" cy="324.75" r="1.25" fill="rgba(255,255,255,0.6)" stroke="#8a8a8a" stroke-width="0.4"/>
<circle cx="300.72" cy="322.48" r="1.25" fill="rgba(255,255,255,0.6)" stroke="#8a8a8a" stroke-width="0.4"/>
<circle cx="295.8" cy="323.02" r="1.25" fill="rgba(255,255,255,0.6)" stroke="#8a8a8a" stroke-width="0.4"/>
<circle cx="293.01" cy="330.35" r="1.25" fill="rgba(255,255,255,0.6)" stroke="#8a8a8a" stroke-width="0.4"/>
<circle cx="293.48" cy="324.86" r="1.25" fill="rgba(255,255,255,0.6)" stroke="#8a8a8a" stroke-width="0.4"/>
<circle cx="292.57" cy="361.1" r="1.25" fill="rgba(255,255,255,0.6)" stroke="#8a8a8a" stroke-width="0.4"/>
<circle cx="294.83" cy="351.49" r="1.25" fill="rgba(255,255,255,0.6)" stroke="#8a8a8a" stroke-width="0.4"/>
<circle cx="292.57" cy="351.72" r="1.25" fill="rgba(255,255,255,0.6)" stroke="#8a8a8a" stroke-width="0.4"/>
<circle cx="293.9" cy="355.15" r="1.25" fill="rgba(255,255,255,0.6)" stroke="#8a8a8a" stroke-width="0.4"/>
<circle cx="294.08" cy="350.66" r="1.25" fill="rgba(255,255,255,0.6)" stroke="#8a8a8a" stroke-width="0.4"/>
<circle cx="296.88" cy="353.23" r="1.25" fill="rgba(255,255,255,0.6)" stroke="#8a8a8a" stroke-width="0.4"/>
<circle cx="299.74" cy="361.39" r="1.25" fill="rgba(255,255,255,0.6)" stroke="#8a8a8a" stroke-width="0.4"/>
<circle cx="298.5" cy="360.38" r="1.25" fill="rgba(255,255,255,0.6)" stroke="#8a8a8a" stroke-width="0.4"/>
<circle cx="295.47" cy="359.37" r="1.25" fill="rgba(255,255,255,0.6)" stroke="#8a8a8a" stroke-width="0.4"/>
<circle cx="295.47" cy="356.83" r="1.25" fill="rgba(255,255,255,0.6)" stroke="#8a8a8a" stroke-width="0.4"/>
<circle cx="296.47" cy="360.79" r="1.25" fill="rgba(255,255,255,0.6)" stroke="#8a8a8a" stroke-width="0.4"/>
<circle cx="295.14" cy="361.17" r="1.25" fill="rgba(255,255,255,0.6)" stroke="#8a8a8a" stroke-width="0.4"/>
<circle cx="295.28" cy="270.6" r="1.25" fill="rgba(255,255,255,0.6)" stroke="#8a8a8a" stroke-width="0.4"/>
<circle cx="293.62" cy="274.4" r="1.25" fill="rgba(255,255,255,0.6)" stroke="#8a8a8a" stroke-width="0.4"/>
<circle cx="343.36" cy="343.94" r="1.25" fill="rgba(255,255,255,0.6)" stroke="#8a8a8a" stroke-width="0.4"/>
<circle cx="337.57" cy="361.19" r="1.25" fill="rgba(255,255,255,0.6)" stroke="#8a8a8a" stroke-width="0.4"/>
<circle cx="336.45" cy="340.15" r="1.25" fill="rgba(255,255,255,0.6)" stroke="#8a8a8a" stroke-width="0.4"/>
<circle cx="336.82" cy="349.58" r="1.25" fill="rgba(255,255,255,0.6)" stroke="#8a8a8a" stroke-width="0.4"/>
<circle cx="339.76" cy="352.74" r="1.25" fill="rgba(255,255,255,0.6)" stroke="#8a8a8a" stroke-width="0.4"/>
<circle cx="341.04" cy="358.57" r="1.25" fill="rgba(255,255,255,0.6)" stroke="#8a8a8a" stroke-width="0.4"/>
<circle cx="343.11" cy="342.4" r="1.25" fill="rgba(255,255,255,0.6)" stroke="#8a8a8a" stroke-width="0.4"/>
<circle cx="341.35" cy="343.78" r="1.25" fill="rgba(255,255,255,0.6)" stroke="#8a8a8a" stroke-width="0.4"/>
<circle cx="340.76" cy="343.21" r="1.25" fill="rgba(255,255,255,0.6)" stroke="#8a8a8a" stroke-width="0.4"/>
<circle cx="341.7" cy="346.99" r="1.25" fill="rgba(255,255,255,0.6)" stroke="#8a8a8a" stroke-width="0.4"/>
<circle cx="339.24" cy="348.15" r="1.25" fill="rgba(255,255,255,0.6)" stroke="#8a8a8a" stroke-width="0.4"/>
<circle cx="339.99" cy="360.85" r="1.25" fill="rgba(255,255,255,0.6)" stroke="#8a8a8a" stroke-width="0.4"/>
<circle cx="335.9" cy="358.22" r="1.25" fill="rgba(255,255,255,0.6)" stroke="#8a8a8a" stroke-width="0.4"/>
<circle cx="341.84" cy="358.82" r="1.25" fill="rgba(255,255,255,0.6)" stroke="#8a8a8a" stroke-width="0.4"/>
<circle cx="337.44" cy="337.55" r="1.25" fill="rgba(255,255,255,0.6)" stroke="#8a8a8a" stroke-width="0.4"/>
<circle cx="342.94" cy="337.81" r="1.25" fill="rgba(255,255,255,0.6)" stroke="#8a8a8a" stroke-width="0.4"/>
<circle cx="340.74" cy="354.74" r="1.25" fill="rgba(255,255,255,0.6)" stroke="#8a8a8a" stroke-width="0.4"/>
<circle cx="338.01" cy="359.39" r="1.25" fill="rgba(255,255,255,0.6)" stroke="#8a8a8a" stroke-width="0.4"/>
<circle cx="336.6" cy="348.83" r="1.25" fill="rgba(255,255,255,0.6)" stroke="#8a8a8a" stroke-width="0.4"/>
<circle cx="337.59" cy="351.68" r="1.25" fill="rgba(255,255,255,0.6)" stroke="#8a8a8a" stroke-width="0.4"/>
<circle cx="340.67" cy="337" r="1.25" fill="rgba(255,255,255,0.6)" stroke="#8a8a8a" stroke-width="0.4"/>
<circle cx="341.17" cy="346.79" r="1.25" fill="rgba(255,255,255,0.6)" stroke="#8a8a8a" stroke-width="0.4"/>
<circle cx="336.48" cy="360.17" r="1.25" fill="rgba(255,255,255,0.6)" stroke="#8a8a8a" stroke-width="0.4"/>
<circle cx="336.14" cy="357.64" r="1.25" fill="rgba(255,255,255,0.6)" stroke="#8a8a8a" stroke-width="0.4"/>
<circle cx="339.78" cy="358.39" r="1.25" fill="rgba(255,255,255,0.6)" stroke="#8a8a8a" stroke-width="0.4"/>
<circle cx="340.24" cy="332.8" r="1.25" fill="rgba(255,255,255,0.6)" stroke="#8a8a8a" stroke-width="0.4"/>
<circle cx="338.68" cy="333.5" r="1.25" fill="rgba(255,255,255,0.6)" stroke="#8a8a8a" stroke-width="0.4"/>
<circle cx="337.37" cy="305.6" r="1.25" fill="rgba(255,255,255,0.6)" stroke="#8a8a8a" stroke-width="0.4"/>
<circle cx="340.39" cy="313.6" r="1.25" fill="rgba(255,255,255,0.6)" stroke="#8a8a8a" stroke-width="0.4"/>
<circle cx="335.66" cy="368.4" r="1.25" fill="rgba(255,255,255,0.6)" stroke="#8a8a8a" stroke-width="0.4"/>
<line x1="203" y1="345.5" x2="216.5" y2="345.5" stroke="#333" stroke-width="1" />
<line x1="152.4" y1="383.5" x2="180" y2="383.5" stroke="#333" stroke-width="1" />
<line x1="239" y1="358.5" x2="267" y2="358.5" stroke="#333" stroke-width="1" />
<text x="410.4" y="268.4" font-size="16" text-anchor="start" fill="#111" >D</text>
<line x1="456.5" y1="253.5" x2="456.5" y2="400" stroke="#2a2a2a" stroke-width="1" />
<line x1="453.9" y1="399.5" x2="456.5" y2="399.5" stroke="#3a3a3a" stroke-width="0.9" />
<text x="451.8" y="402.2" font-size="9" text-anchor="end" fill="#1a1a1a" >0</text>
<line x1="453.9" y1="375.25" x2="456.5" y2="375.25" stroke="#3a3a3a" stroke-width="0.9" />
<text x="451.8" y="377.95" font-size="9" text-anchor="end" fill="#1a1a1a" >200</text>
<line x1="453.9" y1="351" x2="456.5" y2="351" stroke="#3a3a3a" stroke-width="0.9" />
<text x="451.8" y="353.7" font-size="9" text-anchor="end" fill="#1a1a1a" >400</text>
<line x1="453.9" y1="326.75" x2="456.5" y2="326.75" stroke="#3a3a3a" stroke-width="0.9" />
<text x="451.8" y="329.45" font-size="9" text-anchor="end" fill="#1a1a1a" >600</text>
<line x1="453.9" y1="302.5" x2="456.5" y2="302.5" stroke="#3a3a3a" stroke-width="0.9" />
<text x="451.8" y="305.2" font-size="9" text-anchor="end" fill="#1a1a1a" >800</text>
<line x1="453.9" y1="278.25" x2="456.5" y2="278.25" stroke="#3a3a3a" stroke-width="0.9" />
<text x="451.8" y="280.95" font-size="9" text-anchor="end" fill="#1a1a1a" >1000</text>
<line x1="453.9" y1="254" x2="456.5" y2="254" stroke="#3a3a3a" stroke-width="0.9" />
<text x="451.8" y="256.7" font-size="9" text-anchor="end" fill="#1a1a1a" >1200</text>
<line x1="455.1" y1="387.38" x2="456.5" y2="387.38" stroke="#3a3a3a" stroke-width="0.9" />
<line x1="455.1" y1="363.12" x2="456.5" y2="363.12" stroke="#3a3a3a" stroke-width="0.9" />
<line x1="455.1" y1="338.88" x2="456.5" y2="338.88" stroke="#3a3a3a" stroke-width="0.9" />
<line x1="455.1" y1="314.62" x2="456.5" y2="314.62" stroke="#3a3a3a" stroke-width="0.9" />
<line x1="455.1" y1="290.38" x2="456.5" y2="290.38" stroke="#3a3a3a" stroke-width="0.9" />
<line x1="455.1" y1="266.12" x2="456.5" y2="266.12" stroke="#3a3a3a" stroke-width="0.9" />
<line x1="456" y1="399.5" x2="631.6" y2="399.5" stroke="#2a2a2a" stroke-width="1" />
<rect x="471" y="274.13" width="29.3" height="125.37" fill="#3c9f24" stroke="#1d5512" stroke-width="0.8"/>
<text x="485.65" y="272.63" font-size="6.8" text-anchor="middle" fill="#222" style="stroke-width:0.08px">1034</text>
<text x="485.65" y="409" font-size="8.6" text-anchor="middle" fill="#1a1a1a" >mobilizable</text>
<rect x="529.3" y="375.49" width="29.3" height="24.01" fill="#3c9f24" stroke="#1d5512" stroke-width="0.8"/>
<text x="543.95" y="373.99" font-size="6.8" text-anchor="middle" fill="#222" style="stroke-width:0.08px">198</text>
<text x="543.95" y="409" font-size="8.6" text-anchor="middle" fill="#1a1a1a" >non-mobilizable</text>
<rect x="587.6" y="382.65" width="29.3" height="16.85" fill="#3c9f24" stroke="#1d5512" stroke-width="0.8"/>
<text x="602.25" y="381.15" font-size="6.8" text-anchor="middle" fill="#222" style="stroke-width:0.08px">139</text>
<text x="602.25" y="409" font-size="8.6" text-anchor="middle" fill="#1a1a1a" >conjugative</text>
<text x="542" y="424.4" font-size="8.8" text-anchor="middle" fill="#1a1a1a" >Mobility</text>
<text x="429.2" y="327" font-size="8.8" text-anchor="middle" fill="#1a1a1a" transform="rotate(-90 429.2 327)" >Count</text>
<path d="M599.9,328.6 L599.9,304.1 A24.5,24.5 0 1 1 577.06,337.46 Z" fill="#ea3f43" stroke="#fff" stroke-width="0.5"/>
<path d="M599.9,328.6 L577.06,337.46 A24.5,24.5 0 0 1 591.32,305.65 Z" fill="#4478e2" stroke="#fff" stroke-width="0.5"/>
<path d="M599.9,328.6 L591.32,305.65 A24.5,24.5 0 0 1 599.9,304.1 Z" fill="#58b86e" stroke="#fff" stroke-width="0.5"/>
<text x="595.6" y="297.6" font-size="4.6" text-anchor="middle" fill="#1a1a1a" style="stroke-width:0.08px">pWBG4 family</text>
<text x="595.6" y="303.4" font-size="4.6" text-anchor="middle" fill="#1a1a1a" style="stroke-width:0.08px">8 (5.8%)</text>
<text x="560.5" y="311.6" font-size="4.6" text-anchor="middle" fill="#1a1a1a" style="stroke-width:0.08px">pWBG749 family</text>
<text x="560.5" y="317.6" font-size="4.6" text-anchor="middle" fill="#1a1a1a" style="stroke-width:0.08px">35 (25.2%)</text>
<text x="634.1" y="346.6" font-size="4.6" text-anchor="middle" fill="#1a1a1a" style="stroke-width:0.08px">pSK41 family</text>
<text x="634.1" y="352.2" font-size="4.6" text-anchor="middle" fill="#1a1a1a" style="stroke-width:0.08px">96 (69.1%)</text>
<text x="2" y="469" font-size="16" text-anchor="start" fill="#111" >E</text>
<line x1="53.5" y1="456.15" x2="53.5" y2="627.3" stroke="#222" stroke-width="1" />
<line x1="50.5" y1="618.93" x2="53.5" y2="618.93" stroke="#3a3a3a" stroke-width="0.9" />
<text x="47.4" y="621.21" font-size="7.6" text-anchor="end" fill="#1a1a1a" >-2</text>
<line x1="50.5" y1="602.7" x2="53.5" y2="602.7" stroke="#3a3a3a" stroke-width="0.9" />
<text x="47.4" y="604.98" font-size="7.6" text-anchor="end" fill="#1a1a1a" >0</text>
<line x1="50.5" y1="586.47" x2="53.5" y2="586.47" stroke="#3a3a3a" stroke-width="0.9" />
<text x="47.4" y="588.75" font-size="7.6" text-anchor="end" fill="#1a1a1a" >2</text>
<line x1="50.5" y1="570.24" x2="53.5" y2="570.24" stroke="#3a3a3a" stroke-width="0.9" />
<text x="47.4" y="572.52" font-size="7.6" text-anchor="end" fill="#1a1a1a" >4</text>
<line x1="50.5" y1="554.02" x2="53.5" y2="554.02" stroke="#3a3a3a" stroke-width="0.9" />
<text x="47.4" y="556.3" font-size="7.6" text-anchor="end" fill="#1a1a1a" >6</text>
<line x1="50.5" y1="537.79" x2="53.5" y2="537.79" stroke="#3a3a3a" stroke-width="0.9" />
<text x="47.4" y="540.07" font-size="7.6" text-anchor="end" fill="#1a1a1a" >8</text>
<line x1="50.5" y1="521.56" x2="53.5" y2="521.56" stroke="#3a3a3a" stroke-width="0.9" />
<text x="47.4" y="523.84" font-size="7.6" text-anchor="end" fill="#1a1a1a" >10</text>
<line x1="50.5" y1="505.33" x2="53.5" y2="505.33" stroke="#3a3a3a" stroke-width="0.9" />
<text x="47.4" y="507.61" font-size="7.6" text-anchor="end" fill="#1a1a1a" >12</text>
<line x1="50.5" y1="489.1" x2="53.5" y2="489.1" stroke="#3a3a3a" stroke-width="0.9" />
<text x="47.4" y="491.38" font-size="7.6" text-anchor="end" fill="#1a1a1a" >14</text>
<line x1="50.5" y1="472.88" x2="53.5" y2="472.88" stroke="#3a3a3a" stroke-width="0.9" />
<text x="47.4" y="475.16" font-size="7.6" text-anchor="end" fill="#1a1a1a" >16</text>
<line x1="50.5" y1="456.65" x2="53.5" y2="456.65" stroke="#3a3a3a" stroke-width="0.9" />
<text x="47.4" y="458.93" font-size="7.6" text-anchor="end" fill="#1a1a1a" >18</text>
<line x1="51.9" y1="627.04" x2="53.5" y2="627.04" stroke="#3a3a3a" stroke-width="0.9" />
<line x1="51.9" y1="610.81" x2="53.5" y2="610.81" stroke="#3a3a3a" stroke-width="0.9" />
<line x1="51.9" y1="594.59" x2="53.5" y2="594.59" stroke="#3a3a3a" stroke-width="0.9" />
<line x1="51.9" y1="578.36" x2="53.5" y2="578.36" stroke="#3a3a3a" stroke-width="0.9" />
<line x1="51.9" y1="562.13" x2="53.5" y2="562.13" stroke="#3a3a3a" stroke-width="0.9" />
<line x1="51.9" y1="545.9" x2="53.5" y2="545.9" stroke="#3a3a3a" stroke-width="0.9" />
<line x1="51.9" y1="529.67" x2="53.5" y2="529.67" stroke="#3a3a3a" stroke-width="0.9" />
<line x1="51.9" y1="513.45" x2="53.5" y2="513.45" stroke="#3a3a3a" stroke-width="0.9" />
<line x1="51.9" y1="497.22" x2="53.5" y2="497.22" stroke="#3a3a3a" stroke-width="0.9" />
<line x1="51.9" y1="480.99" x2="53.5" y2="480.99" stroke="#3a3a3a" stroke-width="0.9" />
<line x1="51.9" y1="464.76" x2="53.5" y2="464.76" stroke="#3a3a3a" stroke-width="0.9" />
<line x1="53" y1="626.8" x2="223.3" y2="626.8" stroke="#3a3a3a" stroke-width="1.1" />
<line x1="96" y1="537.79" x2="96" y2="570.24" stroke="#666" stroke-width="0.9" />
<line x1="96" y1="594.59" x2="96" y2="602.7" stroke="#666" stroke-width="0.9" />
<line x1="87.4" y1="537.79" x2="104.6" y2="537.79" stroke="#555" stroke-width="0.9" />
<line x1="87.4" y1="602.7" x2="104.6" y2="602.7" stroke="#555" stroke-width="0.9" />
<rect x="78.6" y="570.24" width="34.4" height="24.34" fill="#f75345" stroke="#4a1a14" stroke-width="0.9"/>
<circle cx="96" cy="529.67" r="1.2" fill="#000" stroke="none" stroke-width="0.5"/>
<circle cx="96" cy="521.56" r="1.2" fill="#000" stroke="none" stroke-width="0.5"/>
<circle cx="96" cy="513.45" r="1.2" fill="#000" stroke="none" stroke-width="0.5"/>
<circle cx="96" cy="505.33" r="1.2" fill="#000" stroke="none" stroke-width="0.5"/>
<circle cx="96" cy="497.22" r="1.2" fill="#000" stroke="none" stroke-width="0.5"/>
<circle cx="96" cy="480.99" r="1.2" fill="#000" stroke="none" stroke-width="0.5"/>
<circle cx="96" cy="581.55" r="1" fill="#000" stroke="none" stroke-width="0.5"/>
<text x="96" y="587.8" font-size="6.5" text-anchor="middle" fill="#222" style="stroke-width:0.08px">2.606</text>
<line x1="96" y1="626.8" x2="96" y2="630.3" stroke="#3a3a3a" stroke-width="0.9" />
<text x="96" y="638.8" font-size="8" text-anchor="middle" fill="#1a1a1a" >chromosome</text>
<line x1="180.5" y1="545.9" x2="180.5" y2="570.24" stroke="#666" stroke-width="0.9" />
<line x1="172.3" y1="545.9" x2="189.4" y2="545.9" stroke="#555" stroke-width="0.9" />
<rect x="163.6" y="570.24" width="34" height="32.46" fill="#55c05e" stroke="#2a4a2a" stroke-width="0.9"/>
<line x1="163.6" y1="594.59" x2="197.6" y2="594.59" stroke="#2a3a2a" stroke-width="0.9" />
<circle cx="180.5" cy="587.96" r="1" fill="#000" stroke="none" stroke-width="0.5"/>
<text x="180.5" y="594.6" font-size="6.5" text-anchor="middle" fill="#222" style="stroke-width:0.08px">1.816</text>
<line x1="180.5" y1="626.8" x2="180.5" y2="630.3" stroke="#3a3a3a" stroke-width="0.9" />
<text x="180.5" y="638.8" font-size="8" text-anchor="middle" fill="#1a1a1a" >plasmid</text>
<text x="37" y="541.2" font-size="8.1" text-anchor="middle" fill="#1a1a1a" transform="rotate(-90 37 541.2)" >ARGs per chromosome or plasmid</text>
<text x="217.6" y="468" font-size="16" text-anchor="start" fill="#111" >F</text>
<line x1="257.5" y1="454.9" x2="257.5" y2="612" stroke="#222" stroke-width="1" />
<line x1="257.5" y1="616.6" x2="257.5" y2="628.3" stroke="#222" stroke-width="1" />
<line x1="253.8" y1="614.7" x2="260.8" y2="611.2" stroke="#222" stroke-width="0.9" />
<line x1="253.8" y1="617.9" x2="260.8" y2="614.4" stroke="#222" stroke-width="0.9" />
<line x1="254.5" y1="455.4" x2="257.5" y2="455.4" stroke="#3a3a3a" stroke-width="0.9" />
<text x="251.6" y="457.47" font-size="6.9" text-anchor="end" fill="#1a1a1a" style="stroke-width:0.08px">0.85</text>
<line x1="254.5" y1="465.89" x2="257.5" y2="465.89" stroke="#3a3a3a" stroke-width="0.9" />
<text x="251.6" y="467.96" font-size="6.9" text-anchor="end" fill="#1a1a1a" style="stroke-width:0.08px">0.84</text>
<line x1="254.5" y1="476.37" x2="257.5" y2="476.37" stroke="#3a3a3a" stroke-width="0.9" />
<text x="251.6" y="478.44" font-size="6.9" text-anchor="end" fill="#1a1a1a" style="stroke-width:0.08px">0.83</text>
<line x1="254.5" y1="486.86" x2="257.5" y2="486.86" stroke="#3a3a3a" stroke-width="0.9" />
<text x="251.6" y="488.93" font-size="6.9" text-anchor="end" fill="#1a1a1a" style="stroke-width:0.08px">0.82</text>
<line x1="254.5" y1="497.34" x2="257.5" y2="497.34" stroke="#3a3a3a" stroke-width="0.9" />
<text x="251.6" y="499.41" font-size="6.9" text-anchor="end" fill="#1a1a1a" style="stroke-width:0.08px">0.81</text>
<line x1="254.5" y1="507.83" x2="257.5" y2="507.83" stroke="#3a3a3a" stroke-width="0.9" />
<text x="251.6" y="509.9" font-size="6.9" text-anchor="end" fill="#1a1a1a" style="stroke-width:0.08px">0.80</text>
<line x1="254.5" y1="518.32" x2="257.5" y2="518.32" stroke="#3a3a3a" stroke-width="0.9" />
<text x="251.6" y="520.39" font-size="6.9" text-anchor="end" fill="#1a1a1a" style="stroke-width:0.08px">0.79</text>
<line x1="254.5" y1="528.8" x2="257.5" y2="528.8" stroke="#3a3a3a" stroke-width="0.9" />
<text x="251.6" y="530.87" font-size="6.9" text-anchor="end" fill="#1a1a1a" style="stroke-width:0.08px">0.78</text>
<line x1="254.5" y1="539.29" x2="257.5" y2="539.29" stroke="#3a3a3a" stroke-width="0.9" />
<text x="251.6" y="541.36" font-size="6.9" text-anchor="end" fill="#1a1a1a" style="stroke-width:0.08px">0.77</text>
<line x1="254.5" y1="549.77" x2="257.5" y2="549.77" stroke="#3a3a3a" stroke-width="0.9" />
<text x="251.6" y="551.84" font-size="6.9" text-anchor="end" fill="#1a1a1a" style="stroke-width:0.08px">0.76</text>
<line x1="254.5" y1="560.26" x2="257.5" y2="560.26" stroke="#3a3a3a" stroke-width="0.9" />
<text x="251.6" y="562.33" font-size="6.9" text-anchor="end" fill="#1a1a1a" style="stroke-width:0.08px">0.75</text>
<line x1="254.5" y1="570.75" x2="257.5" y2="570.75" stroke="#3a3a3a" stroke-width="0.9" />
<text x="251.6" y="572.82" font-size="6.9" text-anchor="end" fill="#1a1a1a" style="stroke-width:0.08px">0.74</text>
<line x1="254.5" y1="581.23" x2="257.5" y2="581.23" stroke="#3a3a3a" stroke-width="0.9" />
<text x="251.6" y="583.3" font-size="6.9" text-anchor="end" fill="#1a1a1a" style="stroke-width:0.08px">0.73</text>
<line x1="254.5" y1="591.72" x2="257.5" y2="591.72" stroke="#3a3a3a" stroke-width="0.9" />
<text x="251.6" y="593.79" font-size="6.9" text-anchor="end" fill="#1a1a1a" style="stroke-width:0.08px">0.72</text>
<line x1="254.5" y1="602.2" x2="257.5" y2="602.2" stroke="#3a3a3a" stroke-width="0.9" />
<text x="251.6" y="604.27" font-size="6.9" text-anchor="end" fill="#1a1a1a" style="stroke-width:0.08px">0.71</text>
<line x1="255.9" y1="460.64" x2="257.5" y2="460.64" stroke="#3a3a3a" stroke-width="0.9" />
<line x1="255.9" y1="471.13" x2="257.5" y2="471.13" stroke="#3a3a3a" stroke-width="0.9" />
<line x1="255.9" y1="481.62" x2="257.5" y2="481.62" stroke="#3a3a3a" stroke-width="0.9" />
<line x1="255.9" y1="492.1" x2="257.5" y2="492.1" stroke="#3a3a3a" stroke-width="0.9" />
<line x1="255.9" y1="502.59" x2="257.5" y2="502.59" stroke="#3a3a3a" stroke-width="0.9" />
<line x1="255.9" y1="513.07" x2="257.5" y2="513.07" stroke="#3a3a3a" stroke-width="0.9" />
<line x1="255.9" y1="523.56" x2="257.5" y2="523.56" stroke="#3a3a3a" stroke-width="0.9" />
<line x1="255.9" y1="534.05" x2="257.5" y2="534.05" stroke="#3a3a3a" stroke-width="0.9" />
<line x1="255.9" y1="544.53" x2="257.5" y2="544.53" stroke="#3a3a3a" stroke-width="0.9" />
<line x1="255.9" y1="555.02" x2="257.5" y2="555.02" stroke="#3a3a3a" stroke-width="0.9" />
<line x1="255.9" y1="565.5" x2="257.5" y2="565.5" stroke="#3a3a3a" stroke-width="0.9" />
<line x1="255.9" y1="575.99" x2="257.5" y2="575.99" stroke="#3a3a3a" stroke-width="0.9" />
<line x1="255.9" y1="586.48" x2="257.5" y2="586.48" stroke="#3a3a3a" stroke-width="0.9" />
<line x1="255.9" y1="596.96" x2="257.5" y2="596.96" stroke="#3a3a3a" stroke-width="0.9" />
<line x1="255.9" y1="607.45" x2="257.5" y2="607.45" stroke="#3a3a3a" stroke-width="0.9" />
<line x1="254.5" y1="626.5" x2="257.5" y2="626.5" stroke="#3a3a3a" stroke-width="0.9" />
<text x="251.6" y="628.57" font-size="6.9" text-anchor="end" fill="#1a1a1a" style="stroke-width:0.08px">0.00</text>
<line x1="255.9" y1="620.6" x2="257.5" y2="620.6" stroke="#3a3a3a" stroke-width="0.9" />
<line x1="257" y1="626.5" x2="426.5" y2="626.5" stroke="#222" stroke-width="1" />
<line x1="299.6" y1="626.5" x2="299.6" y2="630" stroke="#3a3a3a" stroke-width="0.9" />
<line x1="341.9" y1="626.5" x2="341.9" y2="628.5" stroke="#3a3a3a" stroke-width="0.9" />
<line x1="384.2" y1="626.5" x2="384.2" y2="630" stroke="#3a3a3a" stroke-width="0.9" />
<line x1="426.3" y1="626.5" x2="426.3" y2="628.5" stroke="#3a3a3a" stroke-width="0.9" />
<rect x="282.6" y="616.6" width="34" height="9.9" fill="#f75345" stroke="#4a1a14" stroke-width="0.9"/>
<text x="299.6" y="615.4" font-size="6.6" text-anchor="middle" fill="#222" style="stroke-width:0.08px">0.009</text>
<rect x="367.4" y="495.4" width="34" height="131.1" fill="#55c05e" stroke="#2a4a2a" stroke-width="0.9"/>
<rect x="366.5" y="612.8" width="36" height="2.4" fill="#fff" stroke="none" stroke-width="0.8"/>
<text x="384.2" y="493.6" font-size="6.6" text-anchor="middle" fill="#222" style="stroke-width:0.08px">0.812</text>
<polyline points="301.9,599 301.9,477.6 384.8,477.6 384.8,486.6" fill="none" stroke="#222" stroke-width="0.9"/>
<text x="343.6" y="471.0" font-size="10.3" text-anchor="middle" fill="#111"><tspan font-style="italic">p</tspan> &lt; 0.01</text>
<text x="299.6" y="638.2" font-size="8" text-anchor="middle" fill="#1a1a1a" >chromosome</text>
<text x="384.2" y="638.2" font-size="8" text-anchor="middle" fill="#1a1a1a" >plasmid</text>
<text x="234.4" y="541" font-size="7.9" text-anchor="middle" fill="#1a1a1a" transform="rotate(-90 234.4 541)" >ARGs/10kb</text>
<text x="421.6" y="467" font-size="16" text-anchor="start" fill="#111" >G</text>
<line x1="462.5" y1="454.88" x2="462.5" y2="626.2" stroke="#222" stroke-width="1" />
<line x1="459.3" y1="625.7" x2="462.5" y2="625.7" stroke="#3a3a3a" stroke-width="0.9" />
<text x="457.4" y="628.4" font-size="9" text-anchor="end" fill="#1a1a1a" >0.0</text>
<line x1="459.3" y1="604.41" x2="462.5" y2="604.41" stroke="#3a3a3a" stroke-width="0.9" />
<text x="457.4" y="607.11" font-size="9" text-anchor="end" fill="#1a1a1a" >0.5</text>
<line x1="459.3" y1="583.12" x2="462.5" y2="583.12" stroke="#3a3a3a" stroke-width="0.9" />
<text x="457.4" y="585.82" font-size="9" text-anchor="end" fill="#1a1a1a" >1.0</text>
<line x1="459.3" y1="561.83" x2="462.5" y2="561.83" stroke="#3a3a3a" stroke-width="0.9" />
<text x="457.4" y="564.53" font-size="9" text-anchor="end" fill="#1a1a1a" >1.5</text>
<line x1="459.3" y1="540.54" x2="462.5" y2="540.54" stroke="#3a3a3a" stroke-width="0.9" />
<text x="457.4" y="543.24" font-size="9" text-anchor="end" fill="#1a1a1a" >2.0</text>
<line x1="459.3" y1="519.25" x2="462.5" y2="519.25" stroke="#3a3a3a" stroke-width="0.9" />
<text x="457.4" y="521.95" font-size="9" text-anchor="end" fill="#1a1a1a" >2.5</text>
<line x1="459.3" y1="497.96" x2="462.5" y2="497.96" stroke="#3a3a3a" stroke-width="0.9" />
<text x="457.4" y="500.66" font-size="9" text-anchor="end" fill="#1a1a1a" >3.0</text>
<line x1="459.3" y1="476.67" x2="462.5" y2="476.67" stroke="#3a3a3a" stroke-width="0.9" />
<text x="457.4" y="479.37" font-size="9" text-anchor="end" fill="#1a1a1a" >3.5</text>
<line x1="459.3" y1="455.38" x2="462.5" y2="455.38" stroke="#3a3a3a" stroke-width="0.9" />
<text x="457.4" y="458.08" font-size="9" text-anchor="end" fill="#1a1a1a" >4.0</text>
<line x1="460.9" y1="615.06" x2="462.5" y2="615.06" stroke="#3a3a3a" stroke-width="0.9" />
<line x1="460.9" y1="593.77" x2="462.5" y2="593.77" stroke="#3a3a3a" stroke-width="0.9" />
<line x1="460.9" y1="572.48" x2="462.5" y2="572.48" stroke="#3a3a3a" stroke-width="0.9" />
<line x1="460.9" y1="551.19" x2="462.5" y2="551.19" stroke="#3a3a3a" stroke-width="0.9" />
<line x1="460.9" y1="529.9" x2="462.5" y2="529.9" stroke="#3a3a3a" stroke-width="0.9" />
<line x1="460.9" y1="508.61" x2="462.5" y2="508.61" stroke="#3a3a3a" stroke-width="0.9" />
<line x1="460.9" y1="487.32" x2="462.5" y2="487.32" stroke="#3a3a3a" stroke-width="0.9" />
<line x1="460.9" y1="466.03" x2="462.5" y2="466.03" stroke="#3a3a3a" stroke-width="0.9" />
<line x1="459.3" y1="625.7" x2="682.6" y2="625.7" stroke="#3a3a3a" stroke-width="1.2" />
<line x1="486.8" y1="625.7" x2="486.8" y2="629.1" stroke="#3a3a3a" stroke-width="0.9" />
<line x1="499.02" y1="625.7" x2="499.02" y2="627.7" stroke="#3a3a3a" stroke-width="0.9" />
<line x1="511.24" y1="625.7" x2="511.24" y2="629.1" stroke="#3a3a3a" stroke-width="0.9" />
<line x1="523.46" y1="625.7" x2="523.46" y2="627.7" stroke="#3a3a3a" stroke-width="0.9" />
<line x1="535.68" y1="625.7" x2="535.68" y2="629.1" stroke="#3a3a3a" stroke-width="0.9" />
<line x1="547.9" y1="625.7" x2="547.9" y2="627.7" stroke="#3a3a3a" stroke-width="0.9" />
<line x1="560.12" y1="625.7" x2="560.12" y2="629.1" stroke="#3a3a3a" stroke-width="0.9" />
<line x1="572.34" y1="625.7" x2="572.34" y2="627.7" stroke="#3a3a3a" stroke-width="0.9" />
<line x1="584.56" y1="625.7" x2="584.56" y2="629.1" stroke="#3a3a3a" stroke-width="0.9" />
<line x1="596.78" y1="625.7" x2="596.78" y2="627.7" stroke="#3a3a3a" stroke-width="0.9" />
<line x1="609" y1="625.7" x2="609" y2="629.1" stroke="#3a3a3a" stroke-width="0.9" />
<line x1="621.22" y1="625.7" x2="621.22" y2="627.7" stroke="#3a3a3a" stroke-width="0.9" />
<line x1="633.44" y1="625.7" x2="633.44" y2="629.1" stroke="#3a3a3a" stroke-width="0.9" />
<line x1="645.66" y1="625.7" x2="645.66" y2="627.7" stroke="#3a3a3a" stroke-width="0.9" />
<line x1="657.88" y1="625.7" x2="657.88" y2="629.1" stroke="#3a3a3a" stroke-width="0.9" />
<line x1="670.1" y1="625.7" x2="670.1" y2="627.7" stroke="#3a3a3a" stroke-width="0.9" />
<line x1="682.2" y1="625.7" x2="682.2" y2="629.1" stroke="#3a3a3a" stroke-width="0.9" />
<text x="491.2" y="638.6" font-size="7.9" text-anchor="end" fill="#1a1a1a" transform="rotate(-31 491.2 638.6)" >&lt;1990</text>
<text x="515.64" y="638.6" font-size="7.9" text-anchor="end" fill="#1a1a1a" transform="rotate(-31 515.64 638.6)" >1990-1995</text>
<text x="540.08" y="638.6" font-size="7.9" text-anchor="end" fill="#1a1a1a" transform="rotate(-31 540.08 638.6)" >1996-2000</text>
<text x="564.52" y="638.6" font-size="7.9" text-anchor="end" fill="#1a1a1a" transform="rotate(-31 564.52 638.6)" >2001-2005</text>
<text x="588.96" y="638.6" font-size="7.9" text-anchor="end" fill="#1a1a1a" transform="rotate(-31 588.96 638.6)" >2006-2010</text>
<text x="613.4" y="638.6" font-size="7.9" text-anchor="end" fill="#1a1a1a" transform="rotate(-31 613.4 638.6)" >2011-2015</text>
<text x="637.84" y="638.6" font-size="7.9" text-anchor="end" fill="#1a1a1a" transform="rotate(-31 637.84 638.6)" >2016-2020</text>
<text x="662.28" y="638.6" font-size="7.9" text-anchor="end" fill="#1a1a1a" transform="rotate(-31 662.28 638.6)" >2021-2023</text>
<line x1="486.4" y1="483.4" x2="657.8" y2="521" stroke="#4fc05a" stroke-width="1" />
<line x1="486.4" y1="612" x2="657.8" y2="532" stroke="#f0453a" stroke-width="1" />
<rect x="485.1" y="493.71" width="3.4" height="3.4" fill="#4fc05a" stroke="none" stroke-width="0.8"/>
<rect x="509.54" y="466.03" width="3.4" height="3.4" fill="#4fc05a" stroke="none" stroke-width="0.8"/>
<rect x="533.98" y="522.23" width="3.4" height="3.4" fill="#4fc05a" stroke="none" stroke-width="0.8"/>
<rect x="558.42" y="479.23" width="3.4" height="3.4" fill="#4fc05a" stroke="none" stroke-width="0.8"/>
<rect x="582.86" y="484.47" width="3.4" height="3.4" fill="#4fc05a" stroke="none" stroke-width="0.8"/>
<rect x="607.3" y="524.45" width="3.4" height="3.4" fill="#4fc05a" stroke="none" stroke-width="0.8"/>
<rect x="631.74" y="510.65" width="3.4" height="3.4" fill="#4fc05a" stroke="none" stroke-width="0.8"/>
<rect x="656.18" y="523.85" width="3.4" height="3.4" fill="#4fc05a" stroke="none" stroke-width="0.8"/>
<circle cx="486.8" cy="591.76" r="2.05" fill="#f0453a" stroke="none" stroke-width="0.5"/>
<circle cx="511.24" cy="607.22" r="2.05" fill="#f0453a" stroke="none" stroke-width="0.5"/>
<circle cx="535.68" cy="616.76" r="2.05" fill="#f0453a" stroke="none" stroke-width="0.5"/>
<circle cx="560.12" cy="595.89" r="2.05" fill="#f0453a" stroke="none" stroke-width="0.5"/>
<circle cx="584.56" cy="575.46" r="2.05" fill="#f0453a" stroke="none" stroke-width="0.5"/>
<circle cx="609" cy="503.07" r="2.05" fill="#f0453a" stroke="none" stroke-width="0.5"/>
<circle cx="633.44" cy="510.31" r="2.05" fill="#f0453a" stroke="none" stroke-width="0.5"/>
<circle cx="657.88" cy="575.88" r="2.05" fill="#f0453a" stroke="none" stroke-width="0.5"/>
<rect x="621.5" y="457.5" width="3.4" height="3.4" fill="#4fc05a" stroke="none" stroke-width="0.8"/>
<text x="632.6" y="461.2" font-size="8" text-anchor="start" fill="#1a1a1a" >chromosome</text>
<circle cx="623.2" cy="469.4" r="2.05" fill="#f0453a" stroke="none" stroke-width="0.5"/>
<text x="632.6" y="471.4" font-size="8" text-anchor="start" fill="#1a1a1a" >plasmid</text>
<text x="440.6" y="540.6" font-size="8.9" text-anchor="middle" fill="#1a1a1a" transform="rotate(-90 440.6 540.6)" >Average ARGs</text>
</svg></body></html>
